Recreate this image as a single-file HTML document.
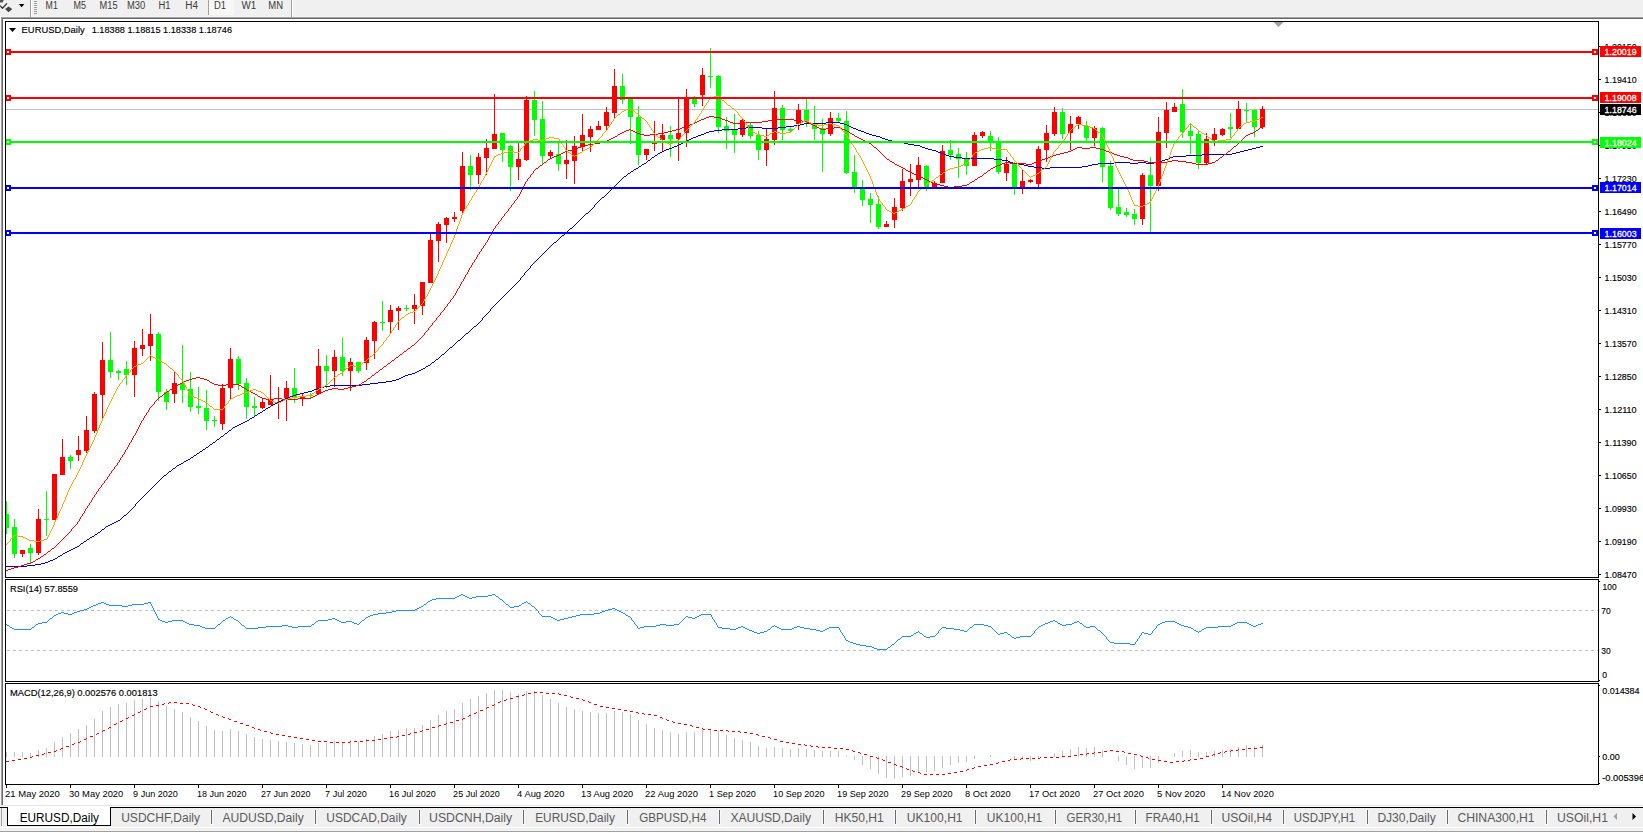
<!DOCTYPE html>
<html><head><meta charset="utf-8"><title>EURUSD,Daily</title>
<style>
html,body{margin:0;padding:0;width:1643px;height:833px;overflow:hidden;background:#f0f0f0;}
svg{display:block;}
text{font-family:"Liberation Sans",sans-serif;white-space:pre;}
</style></head>
<body>
<svg width="1643" height="833" viewBox="0 0 1643 833" shape-rendering="crispEdges">
<rect x="0" y="0" width="1643" height="833" fill="#f0f0f0"/>
<rect x="0" y="16" width="1643" height="1" fill="#f5f5f5"/>
<rect x="0" y="17" width="1643" height="1" fill="#a0a0a0"/>
<rect x="0" y="18" width="1643" height="1" fill="#696969"/>
<rect x="3" y="19" width="1640" height="786" fill="#ffffff"/>
<rect x="0" y="17" width="1" height="788" fill="#f8f8f8"/>
<rect x="1" y="17" width="1" height="788" fill="#a0a0a0"/>
<rect x="2" y="18" width="1" height="787" fill="#696969"/>
<rect x="30" y="0" width="1" height="17" fill="#a0a0a0"/>
<rect x="31" y="0" width="1" height="17" fill="#ffffff"/>
<rect x="291" y="0" width="1" height="17" fill="#a0a0a0"/>
<rect x="292" y="0" width="1" height="17" fill="#ffffff"/>
<rect x="34" y="1" width="3" height="1" fill="#a0a0a0"/>
<rect x="34" y="3" width="3" height="1" fill="#a0a0a0"/>
<rect x="34" y="5" width="3" height="1" fill="#a0a0a0"/>
<rect x="34" y="7" width="3" height="1" fill="#a0a0a0"/>
<rect x="34" y="9" width="3" height="1" fill="#a0a0a0"/>
<rect x="34" y="11" width="3" height="1" fill="#a0a0a0"/>
<rect x="34" y="13" width="3" height="1" fill="#a0a0a0"/>
<rect x="208" y="0" width="1" height="15" fill="#a0a0a0"/>
<rect x="209" y="0" width="25" height="15" fill="#f7f7f7"/>
<path d="M18.8 4 L24.4 4 L21.6 7.2 Z" fill="#000" shape-rendering="auto"/>
<path d="M0 0 L3.8 0 L2.5 2.6 L0 2.6 Z" fill="#505050" shape-rendering="auto"/>
<path d="M0 5.6 L2.5 8.3 L7 3.4" stroke="#303030" stroke-width="1.3" fill="none" shape-rendering="auto"/>
<path d="M5 9.1 L8.6 6.4 L12.2 8.9 L8.6 12.3 Z" fill="#454545" shape-rendering="auto"/>
<text x="45.6" y="9.1" font-size="10" fill="#3a3a3a" textLength="12.2" lengthAdjust="spacingAndGlyphs">M1</text>
<text x="73.6" y="9.1" font-size="10" fill="#3a3a3a" textLength="12.5" lengthAdjust="spacingAndGlyphs">M5</text>
<text x="99.6" y="9.1" font-size="10" fill="#3a3a3a" textLength="18" lengthAdjust="spacingAndGlyphs">M15</text>
<text x="127" y="9.1" font-size="10" fill="#3a3a3a" textLength="18.2" lengthAdjust="spacingAndGlyphs">M30</text>
<text x="158.4" y="9.1" font-size="10" fill="#3a3a3a" textLength="12" lengthAdjust="spacingAndGlyphs">H1</text>
<text x="185.2" y="9.1" font-size="10" fill="#3a3a3a" textLength="12.8" lengthAdjust="spacingAndGlyphs">H4</text>
<text x="214" y="9.1" font-size="10" fill="#3a3a3a" textLength="12.1" lengthAdjust="spacingAndGlyphs">D1</text>
<text x="241.5" y="9.1" font-size="10" fill="#3a3a3a" textLength="14.7" lengthAdjust="spacingAndGlyphs">W1</text>
<text x="268.3" y="9.1" font-size="10" fill="#3a3a3a" textLength="14.7" lengthAdjust="spacingAndGlyphs">MN</text>
<rect x="5" y="21" width="1594" height="1" fill="#000"/>
<rect x="5" y="577" width="1594" height="1" fill="#000"/>
<rect x="5" y="21" width="1" height="557" fill="#000"/>
<rect x="1598" y="21" width="1" height="557" fill="#000"/>
<rect x="5" y="579" width="1594" height="1" fill="#000"/>
<rect x="5" y="681" width="1594" height="1" fill="#000"/>
<rect x="5" y="579" width="1" height="103" fill="#000"/>
<rect x="1598" y="579" width="1" height="103" fill="#000"/>
<rect x="5" y="683" width="1594" height="1" fill="#000"/>
<rect x="5" y="784" width="1594" height="1" fill="#000"/>
<rect x="5" y="683" width="1" height="102" fill="#000"/>
<rect x="1598" y="683" width="1" height="102" fill="#000"/>
<defs>
<clipPath id="cm"><rect x="6" y="22" width="1592" height="555"/></clipPath>
<clipPath id="cr"><rect x="6" y="580" width="1592" height="101"/></clipPath>
<clipPath id="cd"><rect x="6" y="684" width="1592" height="100"/></clipPath>
</defs>
<g clip-path="url(#cm)">
<path d="M1273.5 22 L1283.5 22 L1278.5 27 Z" fill="#a0a0a0" shape-rendering="auto"/>
<rect x="6" y="109" width="1592" height="1" fill="#c0c0c0"/>
<rect x="6" y="501" width="1" height="33" fill="#00ff00"/>
<rect x="4" y="514" width="5" height="14" fill="#00ff00"/>
<rect x="14" y="519" width="1" height="39" fill="#00ff00"/>
<rect x="12" y="527" width="5" height="27" fill="#00ff00"/>
<rect x="22" y="550" width="1" height="7" fill="#ff0000"/>
<rect x="20" y="550" width="5" height="4" fill="#ff0000"/>
<rect x="30" y="544" width="1" height="19" fill="#00ff00"/>
<rect x="28" y="548" width="5" height="5" fill="#00ff00"/>
<rect x="38" y="509" width="1" height="46" fill="#ff0000"/>
<rect x="36" y="519" width="5" height="34" fill="#ff0000"/>
<rect x="46" y="491" width="1" height="45" fill="#00ff00"/>
<rect x="44" y="519" width="5" height="1" fill="#00ff00"/>
<rect x="54" y="474" width="1" height="46" fill="#ff0000"/>
<rect x="52" y="474" width="5" height="46" fill="#ff0000"/>
<rect x="62" y="439" width="1" height="36" fill="#ff0000"/>
<rect x="60" y="457" width="5" height="18" fill="#ff0000"/>
<rect x="70" y="455" width="1" height="14" fill="#00ff00"/>
<rect x="68" y="457" width="5" height="4" fill="#00ff00"/>
<rect x="78" y="436" width="1" height="25" fill="#ff0000"/>
<rect x="76" y="450" width="5" height="5" fill="#ff0000"/>
<rect x="86" y="416" width="1" height="37" fill="#ff0000"/>
<rect x="84" y="430" width="5" height="21" fill="#ff0000"/>
<rect x="94" y="392" width="1" height="41" fill="#ff0000"/>
<rect x="92" y="394" width="5" height="37" fill="#ff0000"/>
<rect x="102" y="342" width="1" height="76" fill="#ff0000"/>
<rect x="100" y="360" width="5" height="35" fill="#ff0000"/>
<rect x="110" y="332" width="1" height="46" fill="#00ff00"/>
<rect x="108" y="360" width="5" height="12" fill="#00ff00"/>
<rect x="118" y="370" width="1" height="10" fill="#00ff00"/>
<rect x="116" y="371" width="5" height="2" fill="#00ff00"/>
<rect x="126" y="361" width="1" height="24" fill="#00ff00"/>
<rect x="124" y="369" width="5" height="6" fill="#00ff00"/>
<rect x="134" y="341" width="1" height="56" fill="#ff0000"/>
<rect x="132" y="348" width="5" height="27" fill="#ff0000"/>
<rect x="142" y="329" width="1" height="27" fill="#ff0000"/>
<rect x="140" y="345" width="5" height="4" fill="#ff0000"/>
<rect x="150" y="314" width="1" height="47" fill="#ff0000"/>
<rect x="148" y="334" width="5" height="12" fill="#ff0000"/>
<rect x="158" y="332" width="1" height="69" fill="#00ff00"/>
<rect x="156" y="334" width="5" height="58" fill="#00ff00"/>
<rect x="166" y="389" width="1" height="21" fill="#00ff00"/>
<rect x="164" y="392" width="5" height="10" fill="#00ff00"/>
<rect x="174" y="372" width="1" height="31" fill="#ff0000"/>
<rect x="172" y="383" width="5" height="11" fill="#ff0000"/>
<rect x="182" y="345" width="1" height="58" fill="#00ff00"/>
<rect x="180" y="383" width="5" height="7" fill="#00ff00"/>
<rect x="190" y="372" width="1" height="40" fill="#00ff00"/>
<rect x="188" y="389" width="5" height="18" fill="#00ff00"/>
<rect x="198" y="387" width="1" height="27" fill="#00ff00"/>
<rect x="196" y="406" width="5" height="2" fill="#00ff00"/>
<rect x="206" y="390" width="1" height="40" fill="#00ff00"/>
<rect x="204" y="408" width="5" height="13" fill="#00ff00"/>
<rect x="214" y="416" width="1" height="11" fill="#00ff00"/>
<rect x="212" y="420" width="5" height="1" fill="#00ff00"/>
<rect x="222" y="384" width="1" height="46" fill="#ff0000"/>
<rect x="220" y="388" width="5" height="36" fill="#ff0000"/>
<rect x="230" y="348" width="1" height="52" fill="#ff0000"/>
<rect x="228" y="359" width="5" height="29" fill="#ff0000"/>
<rect x="238" y="356" width="1" height="34" fill="#00ff00"/>
<rect x="236" y="359" width="5" height="25" fill="#00ff00"/>
<rect x="246" y="378" width="1" height="41" fill="#00ff00"/>
<rect x="244" y="383" width="5" height="24" fill="#00ff00"/>
<rect x="254" y="397" width="1" height="20" fill="#00ff00"/>
<rect x="252" y="406" width="5" height="2" fill="#00ff00"/>
<rect x="262" y="398" width="1" height="11" fill="#ff0000"/>
<rect x="260" y="402" width="5" height="6" fill="#ff0000"/>
<rect x="270" y="375" width="1" height="30" fill="#ff0000"/>
<rect x="268" y="400" width="5" height="5" fill="#ff0000"/>
<rect x="278" y="387" width="1" height="32" fill="#ff0000"/>
<rect x="276" y="398" width="5" height="1" fill="#ff0000"/>
<rect x="286" y="381" width="1" height="40" fill="#ff0000"/>
<rect x="284" y="388" width="5" height="10" fill="#ff0000"/>
<rect x="294" y="368" width="1" height="35" fill="#00ff00"/>
<rect x="292" y="388" width="5" height="10" fill="#00ff00"/>
<rect x="302" y="393" width="1" height="13" fill="#ff0000"/>
<rect x="300" y="396" width="5" height="2" fill="#ff0000"/>
<rect x="310" y="393" width="1" height="5" fill="#00ff00"/>
<rect x="308" y="395" width="5" height="1" fill="#00ff00"/>
<rect x="318" y="349" width="1" height="45" fill="#ff0000"/>
<rect x="316" y="366" width="5" height="28" fill="#ff0000"/>
<rect x="326" y="355" width="1" height="33" fill="#00ff00"/>
<rect x="324" y="366" width="5" height="5" fill="#00ff00"/>
<rect x="334" y="350" width="1" height="37" fill="#ff0000"/>
<rect x="332" y="357" width="5" height="14" fill="#ff0000"/>
<rect x="342" y="338" width="1" height="38" fill="#00ff00"/>
<rect x="340" y="357" width="5" height="14" fill="#00ff00"/>
<rect x="350" y="358" width="1" height="33" fill="#ff0000"/>
<rect x="348" y="362" width="5" height="9" fill="#ff0000"/>
<rect x="358" y="362" width="1" height="11" fill="#00ff00"/>
<rect x="356" y="362" width="5" height="9" fill="#00ff00"/>
<rect x="366" y="337" width="1" height="33" fill="#ff0000"/>
<rect x="364" y="340" width="5" height="23" fill="#ff0000"/>
<rect x="374" y="321" width="1" height="38" fill="#ff0000"/>
<rect x="372" y="322" width="5" height="19" fill="#ff0000"/>
<rect x="382" y="301" width="1" height="30" fill="#00ff00"/>
<rect x="380" y="322" width="5" height="1" fill="#00ff00"/>
<rect x="390" y="305" width="1" height="29" fill="#ff0000"/>
<rect x="388" y="310" width="5" height="12" fill="#ff0000"/>
<rect x="398" y="306" width="1" height="24" fill="#ff0000"/>
<rect x="396" y="308" width="5" height="3" fill="#ff0000"/>
<rect x="406" y="305" width="1" height="6" fill="#00ff00"/>
<rect x="404" y="308" width="5" height="1" fill="#00ff00"/>
<rect x="414" y="294" width="1" height="30" fill="#ff0000"/>
<rect x="412" y="305" width="5" height="4" fill="#ff0000"/>
<rect x="422" y="282" width="1" height="33" fill="#ff0000"/>
<rect x="420" y="282" width="5" height="24" fill="#ff0000"/>
<rect x="430" y="234" width="1" height="49" fill="#ff0000"/>
<rect x="428" y="240" width="5" height="43" fill="#ff0000"/>
<rect x="438" y="222" width="1" height="40" fill="#ff0000"/>
<rect x="436" y="224" width="5" height="17" fill="#ff0000"/>
<rect x="446" y="217" width="1" height="26" fill="#ff0000"/>
<rect x="444" y="218" width="5" height="7" fill="#ff0000"/>
<rect x="454" y="212" width="1" height="10" fill="#ff0000"/>
<rect x="452" y="217" width="5" height="2" fill="#ff0000"/>
<rect x="462" y="152" width="1" height="62" fill="#ff0000"/>
<rect x="460" y="166" width="5" height="45" fill="#ff0000"/>
<rect x="470" y="155" width="1" height="35" fill="#00ff00"/>
<rect x="468" y="166" width="5" height="9" fill="#00ff00"/>
<rect x="478" y="153" width="1" height="31" fill="#ff0000"/>
<rect x="476" y="157" width="5" height="18" fill="#ff0000"/>
<rect x="486" y="139" width="1" height="36" fill="#ff0000"/>
<rect x="484" y="148" width="5" height="10" fill="#ff0000"/>
<rect x="494" y="94" width="1" height="55" fill="#ff0000"/>
<rect x="492" y="134" width="5" height="15" fill="#ff0000"/>
<rect x="502" y="133" width="1" height="29" fill="#00ff00"/>
<rect x="500" y="133" width="5" height="17" fill="#00ff00"/>
<rect x="510" y="145" width="1" height="46" fill="#00ff00"/>
<rect x="508" y="146" width="5" height="21" fill="#00ff00"/>
<rect x="518" y="143" width="1" height="37" fill="#ff0000"/>
<rect x="516" y="159" width="5" height="8" fill="#ff0000"/>
<rect x="526" y="96" width="1" height="65" fill="#ff0000"/>
<rect x="524" y="100" width="5" height="60" fill="#ff0000"/>
<rect x="534" y="91" width="1" height="45" fill="#00ff00"/>
<rect x="532" y="100" width="5" height="20" fill="#00ff00"/>
<rect x="542" y="101" width="1" height="63" fill="#00ff00"/>
<rect x="540" y="119" width="5" height="37" fill="#00ff00"/>
<rect x="550" y="150" width="1" height="9" fill="#ff0000"/>
<rect x="548" y="152" width="5" height="4" fill="#ff0000"/>
<rect x="558" y="143" width="1" height="28" fill="#00ff00"/>
<rect x="556" y="154" width="5" height="10" fill="#00ff00"/>
<rect x="566" y="140" width="1" height="39" fill="#ff0000"/>
<rect x="564" y="160" width="5" height="4" fill="#ff0000"/>
<rect x="574" y="136" width="1" height="48" fill="#ff0000"/>
<rect x="572" y="146" width="5" height="15" fill="#ff0000"/>
<rect x="582" y="114" width="1" height="37" fill="#ff0000"/>
<rect x="580" y="135" width="5" height="12" fill="#ff0000"/>
<rect x="590" y="126" width="1" height="26" fill="#ff0000"/>
<rect x="588" y="129" width="5" height="8" fill="#ff0000"/>
<rect x="598" y="121" width="1" height="9" fill="#ff0000"/>
<rect x="596" y="126" width="5" height="4" fill="#ff0000"/>
<rect x="606" y="107" width="1" height="23" fill="#ff0000"/>
<rect x="604" y="112" width="5" height="14" fill="#ff0000"/>
<rect x="614" y="69" width="1" height="49" fill="#ff0000"/>
<rect x="612" y="86" width="5" height="27" fill="#ff0000"/>
<rect x="622" y="74" width="1" height="30" fill="#00ff00"/>
<rect x="620" y="86" width="5" height="14" fill="#00ff00"/>
<rect x="630" y="99" width="1" height="45" fill="#00ff00"/>
<rect x="628" y="99" width="5" height="18" fill="#00ff00"/>
<rect x="638" y="106" width="1" height="59" fill="#00ff00"/>
<rect x="636" y="117" width="5" height="38" fill="#00ff00"/>
<rect x="646" y="149" width="1" height="11" fill="#ff0000"/>
<rect x="644" y="149" width="5" height="6" fill="#ff0000"/>
<rect x="654" y="121" width="1" height="30" fill="#ff0000"/>
<rect x="652" y="143" width="5" height="1" fill="#ff0000"/>
<rect x="662" y="124" width="1" height="27" fill="#ff0000"/>
<rect x="660" y="135" width="5" height="5" fill="#ff0000"/>
<rect x="670" y="126" width="1" height="31" fill="#00ff00"/>
<rect x="668" y="135" width="5" height="4" fill="#00ff00"/>
<rect x="678" y="99" width="1" height="62" fill="#ff0000"/>
<rect x="676" y="133" width="5" height="6" fill="#ff0000"/>
<rect x="686" y="89" width="1" height="58" fill="#ff0000"/>
<rect x="684" y="98" width="5" height="35" fill="#ff0000"/>
<rect x="694" y="96" width="1" height="11" fill="#00ff00"/>
<rect x="692" y="99" width="5" height="5" fill="#00ff00"/>
<rect x="702" y="68" width="1" height="38" fill="#ff0000"/>
<rect x="700" y="75" width="5" height="20" fill="#ff0000"/>
<rect x="710" y="48" width="1" height="40" fill="#00ff00"/>
<rect x="708" y="76" width="5" height="1" fill="#00ff00"/>
<rect x="718" y="75" width="1" height="58" fill="#00ff00"/>
<rect x="716" y="76" width="5" height="51" fill="#00ff00"/>
<rect x="726" y="117" width="1" height="32" fill="#00ff00"/>
<rect x="724" y="126" width="5" height="5" fill="#00ff00"/>
<rect x="734" y="114" width="1" height="39" fill="#00ff00"/>
<rect x="732" y="130" width="5" height="5" fill="#00ff00"/>
<rect x="742" y="119" width="1" height="18" fill="#ff0000"/>
<rect x="740" y="120" width="5" height="15" fill="#ff0000"/>
<rect x="750" y="122" width="1" height="17" fill="#00ff00"/>
<rect x="748" y="125" width="5" height="11" fill="#00ff00"/>
<rect x="758" y="131" width="1" height="29" fill="#00ff00"/>
<rect x="756" y="135" width="5" height="15" fill="#00ff00"/>
<rect x="766" y="129" width="1" height="37" fill="#ff0000"/>
<rect x="764" y="139" width="5" height="11" fill="#ff0000"/>
<rect x="774" y="91" width="1" height="54" fill="#ff0000"/>
<rect x="772" y="108" width="5" height="32" fill="#ff0000"/>
<rect x="782" y="105" width="1" height="35" fill="#00ff00"/>
<rect x="780" y="108" width="5" height="22" fill="#00ff00"/>
<rect x="790" y="126" width="1" height="7" fill="#00ff00"/>
<rect x="788" y="129" width="5" height="2" fill="#00ff00"/>
<rect x="798" y="104" width="1" height="26" fill="#ff0000"/>
<rect x="796" y="110" width="5" height="14" fill="#ff0000"/>
<rect x="806" y="99" width="1" height="28" fill="#00ff00"/>
<rect x="804" y="110" width="5" height="12" fill="#00ff00"/>
<rect x="814" y="106" width="1" height="34" fill="#00ff00"/>
<rect x="812" y="124" width="5" height="5" fill="#00ff00"/>
<rect x="822" y="119" width="1" height="53" fill="#00ff00"/>
<rect x="820" y="128" width="5" height="6" fill="#00ff00"/>
<rect x="830" y="112" width="1" height="24" fill="#ff0000"/>
<rect x="828" y="118" width="5" height="16" fill="#ff0000"/>
<rect x="838" y="113" width="1" height="9" fill="#00ff00"/>
<rect x="836" y="118" width="5" height="3" fill="#00ff00"/>
<rect x="846" y="111" width="1" height="63" fill="#00ff00"/>
<rect x="844" y="121" width="5" height="52" fill="#00ff00"/>
<rect x="854" y="155" width="1" height="38" fill="#00ff00"/>
<rect x="852" y="172" width="5" height="15" fill="#00ff00"/>
<rect x="862" y="180" width="1" height="26" fill="#00ff00"/>
<rect x="860" y="189" width="5" height="11" fill="#00ff00"/>
<rect x="870" y="193" width="1" height="30" fill="#00ff00"/>
<rect x="868" y="199" width="5" height="6" fill="#00ff00"/>
<rect x="878" y="196" width="1" height="33" fill="#00ff00"/>
<rect x="876" y="204" width="5" height="23" fill="#00ff00"/>
<rect x="886" y="221" width="1" height="6" fill="#ff0000"/>
<rect x="884" y="224" width="5" height="3" fill="#ff0000"/>
<rect x="894" y="198" width="1" height="30" fill="#ff0000"/>
<rect x="892" y="207" width="5" height="13" fill="#ff0000"/>
<rect x="902" y="169" width="1" height="42" fill="#ff0000"/>
<rect x="900" y="181" width="5" height="27" fill="#ff0000"/>
<rect x="910" y="164" width="1" height="32" fill="#ff0000"/>
<rect x="908" y="179" width="5" height="3" fill="#ff0000"/>
<rect x="918" y="157" width="1" height="30" fill="#ff0000"/>
<rect x="916" y="165" width="5" height="15" fill="#ff0000"/>
<rect x="926" y="165" width="1" height="26" fill="#00ff00"/>
<rect x="924" y="166" width="5" height="21" fill="#00ff00"/>
<rect x="934" y="181" width="1" height="6" fill="#ff0000"/>
<rect x="932" y="183" width="5" height="4" fill="#ff0000"/>
<rect x="942" y="145" width="1" height="38" fill="#ff0000"/>
<rect x="940" y="151" width="5" height="32" fill="#ff0000"/>
<rect x="950" y="140" width="1" height="20" fill="#00ff00"/>
<rect x="948" y="150" width="5" height="5" fill="#00ff00"/>
<rect x="958" y="148" width="1" height="30" fill="#00ff00"/>
<rect x="956" y="154" width="5" height="5" fill="#00ff00"/>
<rect x="966" y="152" width="1" height="23" fill="#00ff00"/>
<rect x="964" y="159" width="5" height="7" fill="#00ff00"/>
<rect x="974" y="132" width="1" height="34" fill="#ff0000"/>
<rect x="972" y="135" width="5" height="31" fill="#ff0000"/>
<rect x="982" y="131" width="1" height="7" fill="#ff0000"/>
<rect x="980" y="132" width="5" height="4" fill="#ff0000"/>
<rect x="990" y="131" width="1" height="20" fill="#00ff00"/>
<rect x="988" y="136" width="5" height="5" fill="#00ff00"/>
<rect x="998" y="137" width="1" height="37" fill="#00ff00"/>
<rect x="996" y="141" width="5" height="31" fill="#00ff00"/>
<rect x="1006" y="157" width="1" height="24" fill="#ff0000"/>
<rect x="1004" y="164" width="5" height="9" fill="#ff0000"/>
<rect x="1014" y="162" width="1" height="33" fill="#00ff00"/>
<rect x="1012" y="164" width="5" height="25" fill="#00ff00"/>
<rect x="1022" y="169" width="1" height="25" fill="#ff0000"/>
<rect x="1020" y="181" width="5" height="8" fill="#ff0000"/>
<rect x="1030" y="179" width="1" height="4" fill="#ff0000"/>
<rect x="1028" y="180" width="5" height="2" fill="#ff0000"/>
<rect x="1038" y="146" width="1" height="41" fill="#ff0000"/>
<rect x="1036" y="149" width="5" height="35" fill="#ff0000"/>
<rect x="1046" y="125" width="1" height="37" fill="#ff0000"/>
<rect x="1044" y="133" width="5" height="17" fill="#ff0000"/>
<rect x="1054" y="107" width="1" height="29" fill="#ff0000"/>
<rect x="1052" y="112" width="5" height="22" fill="#ff0000"/>
<rect x="1062" y="108" width="1" height="31" fill="#00ff00"/>
<rect x="1060" y="112" width="5" height="22" fill="#00ff00"/>
<rect x="1070" y="116" width="1" height="34" fill="#ff0000"/>
<rect x="1068" y="124" width="5" height="9" fill="#ff0000"/>
<rect x="1078" y="116" width="1" height="13" fill="#ff0000"/>
<rect x="1076" y="117" width="5" height="7" fill="#ff0000"/>
<rect x="1086" y="121" width="1" height="20" fill="#00ff00"/>
<rect x="1084" y="126" width="5" height="12" fill="#00ff00"/>
<rect x="1094" y="126" width="1" height="20" fill="#ff0000"/>
<rect x="1092" y="128" width="5" height="10" fill="#ff0000"/>
<rect x="1102" y="127" width="1" height="55" fill="#00ff00"/>
<rect x="1100" y="128" width="5" height="39" fill="#00ff00"/>
<rect x="1110" y="161" width="1" height="49" fill="#00ff00"/>
<rect x="1108" y="166" width="5" height="42" fill="#00ff00"/>
<rect x="1118" y="189" width="1" height="27" fill="#00ff00"/>
<rect x="1116" y="207" width="5" height="7" fill="#00ff00"/>
<rect x="1126" y="208" width="1" height="9" fill="#00ff00"/>
<rect x="1124" y="212" width="5" height="3" fill="#00ff00"/>
<rect x="1134" y="209" width="1" height="16" fill="#00ff00"/>
<rect x="1132" y="214" width="5" height="5" fill="#00ff00"/>
<rect x="1142" y="173" width="1" height="52" fill="#ff0000"/>
<rect x="1140" y="175" width="5" height="44" fill="#ff0000"/>
<rect x="1150" y="157" width="1" height="75" fill="#00ff00"/>
<rect x="1148" y="175" width="5" height="11" fill="#00ff00"/>
<rect x="1158" y="117" width="1" height="74" fill="#ff0000"/>
<rect x="1156" y="132" width="5" height="54" fill="#ff0000"/>
<rect x="1166" y="102" width="1" height="46" fill="#ff0000"/>
<rect x="1164" y="110" width="5" height="23" fill="#ff0000"/>
<rect x="1174" y="103" width="1" height="9" fill="#ff0000"/>
<rect x="1172" y="107" width="5" height="5" fill="#ff0000"/>
<rect x="1182" y="89" width="1" height="49" fill="#00ff00"/>
<rect x="1180" y="104" width="5" height="28" fill="#00ff00"/>
<rect x="1190" y="123" width="1" height="31" fill="#00ff00"/>
<rect x="1188" y="131" width="5" height="5" fill="#00ff00"/>
<rect x="1198" y="130" width="1" height="39" fill="#00ff00"/>
<rect x="1196" y="134" width="5" height="29" fill="#00ff00"/>
<rect x="1206" y="133" width="1" height="31" fill="#ff0000"/>
<rect x="1204" y="139" width="5" height="24" fill="#ff0000"/>
<rect x="1214" y="128" width="1" height="18" fill="#ff0000"/>
<rect x="1212" y="134" width="5" height="6" fill="#ff0000"/>
<rect x="1222" y="128" width="1" height="8" fill="#ff0000"/>
<rect x="1220" y="129" width="5" height="6" fill="#ff0000"/>
<rect x="1230" y="113" width="1" height="25" fill="#00ff00"/>
<rect x="1228" y="127" width="5" height="2" fill="#00ff00"/>
<rect x="1238" y="101" width="1" height="28" fill="#ff0000"/>
<rect x="1236" y="109" width="5" height="20" fill="#ff0000"/>
<rect x="1246" y="103" width="1" height="19" fill="#00ff00"/>
<rect x="1244" y="110" width="5" height="1" fill="#00ff00"/>
<rect x="1254" y="109" width="1" height="28" fill="#00ff00"/>
<rect x="1252" y="110" width="5" height="17" fill="#00ff00"/>
<rect x="1262" y="106" width="1" height="23" fill="#ff0000"/>
<rect x="1260" y="109" width="5" height="18" fill="#ff0000"/>
<path d="M652 157h2v1h-2zM954 157h8v1h-8zM1170 157h3v1h-3zM314 389h3v1h-3zM206 447h2v1h-2zM90 537h2v1h-2zM203 449h2v1h-2zM804 123h22v1h-22zM840 123h4v1h-4zM87 539h2v1h-2zM639 166h2v1h-2zM1028 166h6v1h-6zM1082 166h6v1h-6zM408 374h4v1h-4zM669 148h3v1h-3zM925 148h3v1h-3zM1252 148h4v1h-4zM962 158h32v1h-32zM1168 158h2v1h-2zM268 407h2v1h-2zM290 396h3v1h-3zM237 425h2v1h-2zM1024 165h4v1h-4zM1088 165h4v1h-4zM714 130h8v1h-8zM858 130h3v1h-3zM164 475h2v1h-2zM399 378h2v1h-2zM631 171h2v1h-2zM233 427h2v1h-2zM71 549h2v1h-2zM644 163h2v1h-2zM1013 163h5v1h-5zM1098 163h16v1h-16zM1130 163h8v1h-8zM1146 163h8v1h-8zM392 380h4v1h-4zM683 142h2v1h-2zM898 142h6v1h-6zM944 154h2v1h-2zM1202 154h30v1h-30zM116 521h2v1h-2zM704 133h2v1h-2zM866 133h3v1h-3zM386 381h6v1h-6zM112 523h2v1h-2zM252 417h2v1h-2zM674 146h3v1h-3zM920 146h2v1h-2zM1260 146h3v1h-3zM696 136h2v1h-2zM876 136h4v1h-4zM636 168h2v1h-2zM1042 168h8v1h-8zM27 565h8v1h-8zM436 359h2v1h-2zM1008 161h2v1h-2zM1160 161h2v1h-2zM554 242h2v1h-2zM55 558h2v1h-2zM664 150h2v1h-2zM932 150h4v1h-4zM1244 150h4v1h-4zM826 122h14v1h-14zM738 128h8v1h-8zM762 128h16v1h-16zM853 128h3v1h-3zM794 125h6v1h-6zM847 125h2v1h-2zM283 399h2v1h-2zM279 401h2v1h-2zM330 385h32v1h-32zM417 371h2v1h-2zM1010 162h3v1h-3zM1114 162h16v1h-16zM1138 162h8v1h-8zM1154 162h6v1h-6zM693 137h3v1h-3zM880 137h2v1h-2zM169 471h2v1h-2zM666 149h3v1h-3zM928 149h4v1h-4zM1248 149h4v1h-4zM1034 167h8v1h-8zM1050 167h32v1h-32zM217 439h2v1h-2zM245 421h2v1h-2zM194 455h2v1h-2zM324 386h6v1h-6zM786 126h8v1h-8zM849 126h2v1h-2zM45 562h3v1h-3zM681 143h2v1h-2zM904 143h4v1h-4zM746 127h16v1h-16zM778 127h8v1h-8zM851 127h2v1h-2zM65 552h2v1h-2zM994 159h8v1h-8zM1165 159h3v1h-3zM177 465h2v1h-2zM662 151h2v1h-2zM936 151h2v1h-2zM1240 151h4v1h-4zM106 526h2v1h-2zM271 405h2v1h-2zM706 132h3v1h-3zM864 132h2v1h-2zM243 422h2v1h-2zM403 376h2v1h-2zM370 383h8v1h-8zM687 140h2v1h-2zM888 140h4v1h-4zM6 566h21v1h-21zM698 135h3v1h-3zM872 135h4v1h-4zM378 382h8v1h-8zM800 124h4v1h-4zM844 124h3v1h-3zM288 397h2v1h-2zM188 459h2v1h-2zM949 156h5v1h-5zM1173 156h13v1h-13zM184 461h2v1h-2zM235 426h2v1h-2zM648 160h2v1h-2zM1002 160h6v1h-6zM1162 160h3v1h-3zM628 173h2v1h-2zM602 197h2v1h-2zM114 522h2v1h-2zM677 145h2v1h-2zM914 145h6v1h-6zM722 129h16v1h-16zM856 129h2v1h-2zM50 560h3v1h-3zM691 138h2v1h-2zM882 138h3v1h-3zM213 442h2v1h-2zM396 379h3v1h-3zM69 550h2v1h-2zM98 532h2v1h-2zM210 444h2v1h-2zM642 164h2v1h-2zM1018 164h6v1h-6zM1092 164h6v1h-6zM562 235h2v1h-2zM412 373h3v1h-3zM263 410h2v1h-2zM260 412h2v1h-2zM41 563h4v1h-4zM685 141h2v1h-2zM892 141h6v1h-6zM415 372h2v1h-2zM701 134h3v1h-3zM869 134h3v1h-3zM672 147h2v1h-2zM922 147h3v1h-3zM1256 147h4v1h-4zM655 155h2v1h-2zM946 155h3v1h-3zM1186 155h16v1h-16zM709 131h5v1h-5zM861 131h3v1h-3zM200 451h2v1h-2zM362 384h8v1h-8zM426 366h2v1h-2zM423 368h2v1h-2zM250 418h2v1h-2zM95 534h2v1h-2zM277 402h2v1h-2zM432 362h2v1h-2zM320 387h4v1h-4zM679 144h2v1h-2zM908 144h6v1h-6zM58 556h2v1h-2zM474 326h2v1h-2zM405 375h3v1h-3zM293 395h3v1h-3zM77 546h2v1h-2zM60 555h2v1h-2zM300 393h4v1h-4zM266 408h2v1h-2zM285 398h3v1h-3zM186 460h2v1h-2zM53 559h2v1h-2zM48 561h2v1h-2zM35 564h6v1h-6zM67 551h2v1h-2zM586 213h2v1h-2zM658 153h2v1h-2zM941 153h3v1h-3zM1232 153h4v1h-4zM660 152h2v1h-2zM938 152h3v1h-3zM1236 152h4v1h-4zM317 388h3v1h-3zM689 139h2v1h-2zM885 139h3v1h-3zM241 423h2v1h-2zM102 529h2v1h-2zM225 433h2v1h-2zM308 391h4v1h-4zM296 394h4v1h-4zM108 525h2v1h-2zM84 541h2v1h-2zM258 413h2v1h-2zM191 457h2v1h-2zM75 547h2v1h-2zM124 515h2v1h-2zM421 369h2v1h-2zM197 453h2v1h-2zM181 463h2v1h-2zM110 524h2v1h-2zM275 403h2v1h-2zM458 340h2v1h-2zM634 169h2v1h-2zM466 333h2v1h-2zM255 415h2v1h-2zM239 424h2v1h-2zM118 520h2v1h-2zM304 392h4v1h-4zM401 377h2v1h-2zM221 436h2v1h-2zM229 430h2v1h-2zM247 420h2v1h-2zM428 365h2v1h-2zM92 536h2v1h-2zM273 404h2v1h-2zM73 548h2v1h-2zM173 468h2v1h-2zM281 400h2v1h-2zM442 354h2v1h-2zM419 370h2v1h-2zM570 228h2v1h-2zM179 464h2v1h-2zM450 347h2v1h-2zM63 553h2v1h-2zM624 176h2v1h-2zM312 390h2v1h-2zM81 543h2v1h-2zM57 557h1v1h-1zM62 554h1v1h-1zM79 545h1v1h-1zM80 544h1v1h-1zM83 542h1v1h-1zM86 540h1v1h-1zM89 538h1v1h-1zM94 535h1v1h-1zM97 533h1v1h-1zM100 531h1v1h-1zM101 530h1v1h-1zM104 528h1v1h-1zM105 527h1v1h-1zM120 519h1v1h-1zM121 518h1v1h-1zM122 517h1v1h-1zM123 516h1v1h-1zM126 514h1v1h-1zM127 513h1v1h-1zM128 512h1v1h-1zM129 511h1v1h-1zM130 510h1v1h-1zM131 509h1v1h-1zM132 508h1v1h-1zM133 507h1v1h-1zM134 506h1v1h-1zM135 504h1v2h-1zM136 503h1v1h-1zM137 502h1v1h-1zM138 501h1v1h-1zM139 500h1v1h-1zM140 499h1v1h-1zM141 498h1v1h-1zM142 497h1v1h-1zM143 496h1v1h-1zM144 495h1v1h-1zM145 494h1v1h-1zM146 493h1v1h-1zM147 492h1v1h-1zM148 491h1v1h-1zM149 490h1v1h-1zM150 489h1v1h-1zM151 488h1v1h-1zM152 487h1v1h-1zM153 486h1v1h-1zM154 485h1v1h-1zM155 484h1v1h-1zM156 483h1v1h-1zM157 482h1v1h-1zM158 481h1v1h-1zM159 480h1v1h-1zM160 479h1v1h-1zM161 478h1v1h-1zM162 477h1v1h-1zM163 476h1v1h-1zM166 474h1v1h-1zM167 473h1v1h-1zM168 472h1v1h-1zM171 470h1v1h-1zM172 469h1v1h-1zM175 467h1v1h-1zM176 466h1v1h-1zM183 462h1v1h-1zM190 458h1v1h-1zM193 456h1v1h-1zM196 454h1v1h-1zM199 452h1v1h-1zM202 450h1v1h-1zM205 448h1v1h-1zM208 446h1v1h-1zM209 445h1v1h-1zM212 443h1v1h-1zM215 441h1v1h-1zM216 440h1v1h-1zM219 438h1v1h-1zM220 437h1v1h-1zM223 435h1v1h-1zM224 434h1v1h-1zM227 432h1v1h-1zM228 431h1v1h-1zM231 429h1v1h-1zM232 428h1v1h-1zM249 419h1v1h-1zM254 416h1v1h-1zM257 414h1v1h-1zM262 411h1v1h-1zM265 409h1v1h-1zM270 406h1v1h-1zM425 367h1v1h-1zM430 364h1v1h-1zM431 363h1v1h-1zM434 361h1v1h-1zM435 360h1v1h-1zM438 358h1v1h-1zM439 357h1v1h-1zM440 356h1v1h-1zM441 355h1v1h-1zM444 353h1v1h-1zM445 352h1v1h-1zM446 351h1v1h-1zM447 350h1v1h-1zM448 349h1v1h-1zM449 348h1v1h-1zM452 346h1v1h-1zM453 345h1v1h-1zM454 344h1v1h-1zM455 343h1v1h-1zM456 342h1v1h-1zM457 341h1v1h-1zM460 339h1v1h-1zM461 338h1v1h-1zM462 337h1v1h-1zM463 336h1v1h-1zM464 335h1v1h-1zM465 334h1v1h-1zM468 332h1v1h-1zM469 331h1v1h-1zM470 330h1v1h-1zM471 329h1v1h-1zM472 328h1v1h-1zM473 327h1v1h-1zM476 325h1v1h-1zM477 324h1v1h-1zM478 323h1v1h-1zM479 322h1v1h-1zM480 321h1v1h-1zM481 320h1v1h-1zM482 318h1v2h-1zM483 317h1v1h-1zM484 316h1v1h-1zM485 315h1v1h-1zM486 314h1v1h-1zM487 313h1v1h-1zM488 312h1v1h-1zM489 311h1v1h-1zM490 309h1v2h-1zM491 308h1v1h-1zM492 307h1v1h-1zM493 306h1v1h-1zM494 305h1v1h-1zM495 304h1v1h-1zM496 303h1v1h-1zM497 302h1v1h-1zM498 301h1v1h-1zM499 300h1v1h-1zM500 299h1v1h-1zM501 298h1v1h-1zM502 297h1v1h-1zM503 296h1v1h-1zM504 295h1v1h-1zM505 294h1v1h-1zM506 293h1v1h-1zM507 292h1v1h-1zM508 291h1v1h-1zM509 290h1v1h-1zM510 289h1v1h-1zM511 288h1v1h-1zM512 287h1v1h-1zM513 286h1v1h-1zM514 285h1v1h-1zM515 284h1v1h-1zM516 283h1v1h-1zM517 282h1v1h-1zM518 281h1v1h-1zM519 280h1v1h-1zM520 278h1v2h-1zM521 277h1v1h-1zM522 276h1v1h-1zM523 275h1v1h-1zM524 273h1v2h-1zM525 272h1v1h-1zM526 271h1v1h-1zM527 270h1v1h-1zM528 269h1v1h-1zM529 268h1v1h-1zM530 266h1v2h-1zM531 265h1v1h-1zM532 264h1v1h-1zM533 263h1v1h-1zM534 262h1v1h-1zM535 261h1v1h-1zM536 260h1v1h-1zM537 259h1v1h-1zM538 258h1v1h-1zM539 257h1v1h-1zM540 256h1v1h-1zM541 255h1v1h-1zM542 254h1v1h-1zM543 253h1v1h-1zM544 252h1v1h-1zM545 251h1v1h-1zM546 250h1v1h-1zM547 249h1v1h-1zM548 248h1v1h-1zM549 247h1v1h-1zM550 246h1v1h-1zM551 245h1v1h-1zM552 244h1v1h-1zM553 243h1v1h-1zM556 241h1v1h-1zM557 240h1v1h-1zM558 239h1v1h-1zM559 238h1v1h-1zM560 237h1v1h-1zM561 236h1v1h-1zM564 234h1v1h-1zM565 233h1v1h-1zM566 232h1v1h-1zM567 231h1v1h-1zM568 230h1v1h-1zM569 229h1v1h-1zM572 227h1v1h-1zM573 226h1v1h-1zM574 225h1v1h-1zM575 224h1v1h-1zM576 223h1v1h-1zM577 222h1v1h-1zM578 221h1v1h-1zM579 220h1v1h-1zM580 219h1v1h-1zM581 218h1v1h-1zM582 217h1v1h-1zM583 216h1v1h-1zM584 215h1v1h-1zM585 214h1v1h-1zM588 212h1v1h-1zM589 211h1v1h-1zM590 210h1v1h-1zM591 209h1v1h-1zM592 208h1v1h-1zM593 207h1v1h-1zM594 205h1v2h-1zM595 204h1v1h-1zM596 203h1v1h-1zM597 202h1v1h-1zM598 201h1v1h-1zM599 200h1v1h-1zM600 199h1v1h-1zM601 198h1v1h-1zM604 196h1v1h-1zM605 195h1v1h-1zM606 194h1v1h-1zM607 193h1v1h-1zM608 192h1v1h-1zM609 191h1v1h-1zM610 190h1v1h-1zM611 189h1v1h-1zM612 188h1v1h-1zM613 187h1v1h-1zM614 186h1v1h-1zM615 185h1v1h-1zM616 184h1v1h-1zM617 183h1v1h-1zM618 182h1v1h-1zM619 181h1v1h-1zM620 180h1v1h-1zM621 179h1v1h-1zM622 178h1v1h-1zM623 177h1v1h-1zM626 175h1v1h-1zM627 174h1v1h-1zM630 172h1v1h-1zM633 170h1v1h-1zM638 167h1v1h-1zM641 165h1v1h-1zM646 162h1v1h-1zM647 161h1v1h-1zM650 159h1v1h-1zM651 158h1v1h-1zM654 156h1v1h-1zM657 154h1v1h-1z" fill="#0000c8"/>
<path d="M914 174h3v1h-3zM565 151h3v1h-3zM1068 151h3v1h-3zM1106 151h3v1h-3zM1228 151h2v1h-2zM701 119h3v1h-3zM722 119h3v1h-3zM772 119h22v1h-22zM550 158h2v1h-2zM1045 158h3v1h-3zM1128 158h2v1h-2zM622 132h2v1h-2zM635 132h2v1h-2zM664 132h4v1h-4zM1253 132h2v1h-2zM178 384h2v1h-2zM214 384h4v1h-4zM226 384h13v1h-13zM359 384h2v1h-2zM262 398h4v1h-4zM274 398h8v1h-8zM298 398h13v1h-13zM680 128h2v1h-2zM819 128h2v1h-2zM826 128h8v1h-8zM840 128h2v1h-2zM24 564h3v1h-3zM690 124h3v1h-3zM811 124h2v1h-2zM554 156h3v1h-3zM1050 156h3v1h-3zM1120 156h4v1h-4zM921 177h2v1h-2zM978 177h2v1h-2zM936 184h4v1h-4zM967 184h2v1h-2zM594 143h6v1h-6zM869 143h2v1h-2zM44 554h2v1h-2zM695 122h2v1h-2zM730 122h3v1h-3zM746 122h16v1h-16zM807 122h2v1h-2zM578 147h3v1h-3zM874 147h2v1h-2zM1077 147h5v1h-5zM1090 147h6v1h-6zM260 397h2v1h-2zM311 397h2v1h-2zM609 139h2v1h-2zM861 139h2v1h-2zM644 135h6v1h-6zM1246 135h2v1h-2zM682 127h3v1h-3zM817 127h2v1h-2zM834 127h6v1h-6zM1260 127h2v1h-2zM890 161h2v1h-2zM1037 161h3v1h-3zM1144 161h4v1h-4zM1168 161h4v1h-4zM1178 161h8v1h-8zM31 562h2v1h-2zM944 186h4v1h-4zM954 186h8v1h-8zM693 123h2v1h-2zM733 123h13v1h-13zM809 123h2v1h-2zM704 118h2v1h-2zM720 118h2v1h-2zM563 152h2v1h-2zM1064 152h4v1h-4zM1109 152h3v1h-3zM196 377h4v1h-4zM685 126h3v1h-3zM815 126h2v1h-2zM697 121h2v1h-2zM728 121h2v1h-2zM762 121h6v1h-6zM802 121h5v1h-5zM167 391h2v1h-2zM249 391h2v1h-2zM323 391h2v1h-2zM14 567h4v1h-4zM895 164h2v1h-2zM1000 164h2v1h-2zM1026 164h6v1h-6zM1196 164h12v1h-12zM906 170h2v1h-2zM988 170h2v1h-2zM170 389h2v1h-2zM328 389h4v1h-4zM338 389h6v1h-6zM629 129h2v1h-2zM676 129h4v1h-4zM821 129h5v1h-5zM842 129h3v1h-3zM557 155h2v1h-2zM1053 155h3v1h-3zM1117 155h3v1h-3zM266 399h8v1h-8zM282 399h16v1h-16zM1040 160h2v1h-2zM1133 160h11v1h-11zM1172 160h6v1h-6zM1216 160h2v1h-2zM552 157h2v1h-2zM1048 157h2v1h-2zM1124 157h4v1h-4zM1220 157h2v1h-2zM548 159h2v1h-2zM887 159h2v1h-2zM1042 159h3v1h-3zM1130 159h3v1h-3zM584 145h4v1h-4zM620 133h2v1h-2zM637 133h3v1h-3zM658 133h6v1h-6zM850 133h2v1h-2zM1250 133h3v1h-3zM192 378h4v1h-4zM200 378h4v1h-4zM368 378h2v1h-2zM247 390h2v1h-2zM325 390h3v1h-3zM255 394h2v1h-2zM317 394h2v1h-2zM709 116h5v1h-5zM315 395h2v1h-2zM600 142h4v1h-4zM867 142h2v1h-2zM404 351h2v1h-2zM611 138h2v1h-2zM859 138h2v1h-2zM38 558h2v1h-2zM175 386h2v1h-2zM352 386h4v1h-4zM588 144h6v1h-6zM927 180h2v1h-2zM919 176h2v1h-2zM980 176h2v1h-2zM910 172h2v1h-2zM544 162h2v1h-2zM892 162h2v1h-2zM1005 162h5v1h-5zM1034 162h3v1h-3zM1148 162h20v1h-20zM1186 162h6v1h-6zM1212 162h3v1h-3zM536 168h2v1h-2zM903 168h2v1h-2zM991 168h2v1h-2zM412 345h2v1h-2zM706 117h3v1h-3zM714 117h6v1h-6zM604 141h3v1h-3zM865 141h2v1h-2zM540 165h2v1h-2zM897 165h2v1h-2zM997 165h3v1h-3zM172 388h2v1h-2zM244 388h2v1h-2zM332 388h6v1h-6zM344 388h4v1h-4zM1002 163h3v1h-3zM1010 163h16v1h-16zM1032 163h2v1h-2zM1192 163h4v1h-4zM1208 163h4v1h-4zM380 369h2v1h-2zM576 148h2v1h-2zM1075 148h2v1h-2zM1082 148h8v1h-8zM1096 148h4v1h-4zM388 363h2v1h-2zM940 185h4v1h-4zM962 185h5v1h-5zM186 380h3v1h-3zM207 380h2v1h-2zM624 131h2v1h-2zM633 131h2v1h-2zM668 131h4v1h-4zM847 131h2v1h-2zM568 150h4v1h-4zM1071 150h2v1h-2zM1104 150h2v1h-2zM396 357h2v1h-2zM52 548h2v1h-2zM618 134h2v1h-2zM640 134h4v1h-4zM650 134h8v1h-8zM852 134h2v1h-2zM1248 134h2v1h-2zM572 149h4v1h-4zM1073 149h2v1h-2zM1100 149h4v1h-4zM184 381h2v1h-2zM364 381h2v1h-2zM925 179h2v1h-2zM975 179h2v1h-2zM561 153h2v1h-2zM1060 153h4v1h-4zM1112 153h2v1h-2zM182 382h2v1h-2zM210 382h2v1h-2zM362 382h2v1h-2zM6 570h2v1h-2zM931 182h2v1h-2zM970 182h2v1h-2zM699 120h2v1h-2zM725 120h3v1h-3zM768 120h4v1h-4zM794 120h8v1h-8zM923 178h2v1h-2zM917 175h2v1h-2zM908 171h2v1h-2zM251 392h2v1h-2zM321 392h2v1h-2zM242 387h2v1h-2zM348 387h4v1h-4zM613 137h2v1h-2zM857 137h2v1h-2zM218 385h8v1h-8zM239 385h2v1h-2zM356 385h3v1h-3zM912 173h2v1h-2zM984 173h2v1h-2zM626 130h3v1h-3zM631 130h2v1h-2zM672 130h4v1h-4zM845 130h2v1h-2zM1256 130h2v1h-2zM948 187h6v1h-6zM688 125h2v1h-2zM813 125h2v1h-2zM27 563h4v1h-4zM41 556h2v1h-2zM11 568h3v1h-3zM899 166h2v1h-2zM995 166h2v1h-2zM372 375h2v1h-2zM559 154h2v1h-2zM1056 154h4v1h-4zM1114 154h3v1h-3zM1224 154h2v1h-2zM581 146h3v1h-3zM1234 146h2v1h-2zM901 167h2v1h-2zM993 167h2v1h-2zM929 181h2v1h-2zM972 181h2v1h-2zM36 559h2v1h-2zM164 393h2v1h-2zM253 393h2v1h-2zM319 393h2v1h-2zM933 183h3v1h-3zM408 348h2v1h-2zM607 140h2v1h-2zM863 140h2v1h-2zM615 136h2v1h-2zM855 136h2v1h-2zM384 366h2v1h-2zM48 551h2v1h-2zM33 561h2v1h-2zM400 354h2v1h-2zM189 379h3v1h-3zM204 379h3v1h-3zM180 383h2v1h-2zM212 383h2v1h-2zM392 360h2v1h-2zM376 372h2v1h-2zM160 396h2v1h-2zM258 396h2v1h-2zM313 396h2v1h-2zM8 569h3v1h-3zM21 565h3v1h-3zM18 566h3v1h-3zM35 560h1v1h-1zM40 557h1v1h-1zM43 555h1v1h-1zM46 553h1v1h-1zM47 552h1v1h-1zM50 550h1v1h-1zM51 549h1v1h-1zM54 547h1v1h-1zM55 546h1v1h-1zM56 545h1v1h-1zM57 544h1v1h-1zM58 543h1v1h-1zM59 542h1v1h-1zM60 541h1v1h-1zM61 540h1v1h-1zM62 539h1v1h-1zM63 538h1v1h-1zM64 537h1v1h-1zM65 536h1v1h-1zM66 535h1v1h-1zM67 534h1v1h-1zM68 533h1v1h-1zM69 532h1v1h-1zM70 531h1v1h-1zM71 529h1v2h-1zM72 528h1v1h-1zM73 527h1v1h-1zM74 526h1v1h-1zM75 525h1v1h-1zM76 524h1v1h-1zM77 522h1v2h-1zM78 521h1v1h-1zM79 519h1v2h-1zM80 517h1v2h-1zM81 516h1v1h-1zM82 514h1v2h-1zM83 513h1v1h-1zM84 511h1v2h-1zM85 509h1v2h-1zM86 508h1v1h-1zM87 506h1v2h-1zM88 505h1v1h-1zM89 503h1v2h-1zM90 502h1v1h-1zM91 500h1v2h-1zM92 498h1v2h-1zM93 497h1v1h-1zM94 495h1v2h-1zM95 494h1v1h-1zM96 492h1v2h-1zM97 491h1v1h-1zM98 489h1v2h-1zM99 488h1v1h-1zM100 487h1v1h-1zM101 485h1v2h-1zM102 484h1v1h-1zM103 483h1v1h-1zM104 481h1v2h-1zM105 480h1v1h-1zM106 479h1v1h-1zM107 477h1v2h-1zM108 476h1v1h-1zM109 474h1v2h-1zM110 473h1v1h-1zM111 471h1v2h-1zM112 470h1v1h-1zM113 469h1v1h-1zM114 467h1v2h-1zM115 466h1v1h-1zM116 465h1v1h-1zM117 463h1v2h-1zM118 462h1v1h-1zM119 460h1v2h-1zM120 458h1v2h-1zM121 457h1v1h-1zM122 455h1v2h-1zM123 454h1v1h-1zM124 452h1v2h-1zM125 450h1v2h-1zM126 449h1v1h-1zM127 447h1v2h-1zM128 445h1v2h-1zM129 443h1v2h-1zM130 442h1v1h-1zM131 440h1v2h-1zM132 438h1v2h-1zM133 436h1v2h-1zM134 435h1v1h-1zM135 433h1v2h-1zM136 431h1v2h-1zM137 429h1v2h-1zM138 427h1v2h-1zM139 425h1v2h-1zM140 423h1v2h-1zM141 421h1v2h-1zM142 420h1v1h-1zM143 418h1v2h-1zM144 416h1v2h-1zM145 415h1v1h-1zM146 413h1v2h-1zM147 412h1v1h-1zM148 410h1v2h-1zM149 408h1v2h-1zM150 407h1v1h-1zM151 406h1v1h-1zM152 405h1v1h-1zM153 404h1v1h-1zM154 402h1v2h-1zM155 401h1v1h-1zM156 400h1v1h-1zM157 399h1v1h-1zM158 398h1v1h-1zM159 397h1v1h-1zM162 395h1v1h-1zM163 394h1v1h-1zM166 392h1v1h-1zM169 390h1v1h-1zM174 387h1v1h-1zM177 385h1v1h-1zM209 381h1v1h-1zM241 386h1v1h-1zM246 389h1v1h-1zM257 395h1v1h-1zM361 383h1v1h-1zM366 380h1v1h-1zM367 379h1v1h-1zM370 377h1v1h-1zM371 376h1v1h-1zM374 374h1v1h-1zM375 373h1v1h-1zM378 371h1v1h-1zM379 370h1v1h-1zM382 368h1v1h-1zM383 367h1v1h-1zM386 365h1v1h-1zM387 364h1v1h-1zM390 362h1v1h-1zM391 361h1v1h-1zM394 359h1v1h-1zM395 358h1v1h-1zM398 356h1v1h-1zM399 355h1v1h-1zM402 353h1v1h-1zM403 352h1v1h-1zM406 350h1v1h-1zM407 349h1v1h-1zM410 347h1v1h-1zM411 346h1v1h-1zM414 344h1v1h-1zM415 343h1v1h-1zM416 342h1v1h-1zM417 341h1v1h-1zM418 340h1v1h-1zM419 339h1v1h-1zM420 338h1v1h-1zM421 337h1v1h-1zM422 336h1v1h-1zM423 335h1v1h-1zM424 333h1v2h-1zM425 332h1v1h-1zM426 331h1v1h-1zM427 330h1v1h-1zM428 328h1v2h-1zM429 327h1v1h-1zM430 326h1v1h-1zM431 325h1v1h-1zM432 323h1v2h-1zM433 322h1v1h-1zM434 321h1v1h-1zM435 320h1v1h-1zM436 318h1v2h-1zM437 317h1v1h-1zM438 316h1v1h-1zM439 315h1v1h-1zM440 313h1v2h-1zM441 312h1v1h-1zM442 311h1v1h-1zM443 310h1v1h-1zM444 308h1v2h-1zM445 307h1v1h-1zM446 306h1v1h-1zM447 304h1v2h-1zM448 303h1v1h-1zM449 302h1v1h-1zM450 300h1v2h-1zM451 299h1v1h-1zM452 298h1v1h-1zM453 296h1v2h-1zM454 295h1v1h-1zM455 293h1v2h-1zM456 291h1v2h-1zM457 289h1v2h-1zM458 288h1v1h-1zM459 286h1v2h-1zM460 284h1v2h-1zM461 282h1v2h-1zM462 281h1v1h-1zM463 279h1v2h-1zM464 277h1v2h-1zM465 275h1v2h-1zM466 274h1v1h-1zM467 272h1v2h-1zM468 270h1v2h-1zM469 268h1v2h-1zM470 267h1v1h-1zM471 265h1v2h-1zM472 263h1v2h-1zM473 262h1v1h-1zM474 260h1v2h-1zM475 259h1v1h-1zM476 257h1v2h-1zM477 255h1v2h-1zM478 254h1v1h-1zM479 252h1v2h-1zM480 251h1v1h-1zM481 249h1v2h-1zM482 248h1v1h-1zM483 246h1v2h-1zM484 245h1v1h-1zM485 243h1v2h-1zM486 242h1v1h-1zM487 240h1v2h-1zM488 238h1v2h-1zM489 236h1v2h-1zM490 235h1v1h-1zM491 233h1v2h-1zM492 231h1v2h-1zM493 229h1v2h-1zM494 228h1v1h-1zM495 226h1v2h-1zM496 225h1v1h-1zM497 224h1v1h-1zM498 222h1v2h-1zM499 221h1v1h-1zM500 220h1v1h-1zM501 218h1v2h-1zM502 217h1v1h-1zM503 216h1v1h-1zM504 214h1v2h-1zM505 213h1v1h-1zM506 212h1v1h-1zM507 211h1v1h-1zM508 209h1v2h-1zM509 208h1v1h-1zM510 207h1v1h-1zM511 205h1v2h-1zM512 204h1v1h-1zM513 203h1v1h-1zM514 201h1v2h-1zM515 200h1v1h-1zM516 199h1v1h-1zM517 197h1v2h-1zM518 196h1v1h-1zM519 194h1v2h-1zM520 192h1v2h-1zM521 190h1v2h-1zM522 188h1v2h-1zM523 186h1v2h-1zM524 184h1v2h-1zM525 182h1v2h-1zM526 181h1v1h-1zM527 179h1v2h-1zM528 178h1v1h-1zM529 177h1v1h-1zM530 175h1v2h-1zM531 174h1v1h-1zM532 173h1v1h-1zM533 171h1v2h-1zM534 170h1v1h-1zM535 169h1v1h-1zM538 167h1v1h-1zM539 166h1v1h-1zM542 164h1v1h-1zM543 163h1v1h-1zM546 161h1v1h-1zM547 160h1v1h-1zM617 135h1v1h-1zM849 132h1v1h-1zM854 135h1v1h-1zM871 144h1v1h-1zM872 145h1v1h-1zM873 146h1v1h-1zM876 148h1v1h-1zM877 149h1v1h-1zM878 150h1v1h-1zM879 151h1v1h-1zM880 152h1v1h-1zM881 153h1v1h-1zM882 154h1v1h-1zM883 155h1v1h-1zM884 156h1v1h-1zM885 157h1v1h-1zM886 158h1v1h-1zM889 160h1v1h-1zM894 163h1v1h-1zM905 169h1v1h-1zM969 183h1v1h-1zM974 180h1v1h-1zM977 178h1v1h-1zM982 175h1v1h-1zM983 174h1v1h-1zM986 172h1v1h-1zM987 171h1v1h-1zM990 169h1v1h-1zM1215 161h1v1h-1zM1218 159h1v1h-1zM1219 158h1v1h-1zM1222 156h1v1h-1zM1223 155h1v1h-1zM1226 153h1v1h-1zM1227 152h1v1h-1zM1230 150h1v1h-1zM1231 149h1v1h-1zM1232 148h1v1h-1zM1233 147h1v1h-1zM1236 145h1v1h-1zM1237 144h1v1h-1zM1238 143h1v1h-1zM1239 142h1v1h-1zM1240 141h1v1h-1zM1241 140h1v1h-1zM1242 139h1v1h-1zM1243 138h1v1h-1zM1244 137h1v1h-1zM1245 136h1v1h-1zM1255 131h1v1h-1zM1258 129h1v1h-1zM1259 128h1v1h-1zM1262 126h1v1h-1z" fill="#ff0000"/>
<path d="M546 138h3v1h-3zM554 138h5v1h-5zM587 148h2v1h-2zM984 148h4v1h-4zM992 148h4v1h-4zM801 122h2v1h-2zM809 122h2v1h-2zM1246 122h4v1h-4zM250 390h3v1h-3zM256 390h2v1h-2zM316 390h2v1h-2zM891 212h2v1h-2zM895 212h2v1h-2zM1072 128h2v1h-2zM1093 128h2v1h-2zM528 141h2v1h-2zM663 141h2v1h-2zM675 141h2v1h-2zM1214 141h4v1h-4zM1088 126h2v1h-2zM1240 126h2v1h-2zM813 124h5v1h-5zM824 124h4v1h-4zM832 124h4v1h-4zM1078 124h4v1h-4zM533 139h5v1h-5zM544 139h2v1h-2zM1226 139h5v1h-5zM1090 127h3v1h-3zM1194 127h2v1h-2zM753 132h2v1h-2zM772 132h2v1h-2zM776 132h4v1h-4zM786 132h5v1h-5zM1098 132h2v1h-2zM965 163h2v1h-2zM624 110h2v1h-2zM632 110h2v1h-2zM496 155h2v1h-2zM572 155h2v1h-2zM575 155h2v1h-2zM410 312h3v1h-3zM669 144h2v1h-2zM585 149h2v1h-2zM981 149h3v1h-3zM996 149h11v1h-11zM932 180h2v1h-2zM197 398h2v1h-2zM231 398h2v1h-2zM288 398h4v1h-4zM954 167h5v1h-5zM893 213h2v1h-2zM335 376h2v1h-2zM751 131h2v1h-2zM774 131h2v1h-2zM1199 131h2v1h-2zM138 364h3v1h-3zM360 364h2v1h-2zM667 143h2v1h-2zM671 143h2v1h-2zM948 169h2v1h-2zM1042 169h2v1h-2zM908 205h2v1h-2zM1134 205h4v1h-4zM1143 205h2v1h-2zM134 366h2v1h-2zM354 366h5v1h-5zM253 389h3v1h-3zM1037 173h2v1h-2zM589 147h2v1h-2zM988 147h4v1h-4zM818 125h6v1h-6zM836 125h3v1h-3zM1076 125h2v1h-2zM1082 125h6v1h-6zM940 174h2v1h-2zM1035 174h2v1h-2zM155 358h2v1h-2zM757 134h3v1h-3zM1204 134h2v1h-2zM1261 117h2v1h-2zM34 541h6v1h-6zM936 177h2v1h-2zM201 400h2v1h-2zM270 400h2v1h-2zM283 400h2v1h-2zM205 402h2v1h-2zM274 402h3v1h-3zM279 402h2v1h-2zM530 140h3v1h-3zM538 140h6v1h-6zM677 140h2v1h-2zM1212 140h2v1h-2zM1218 140h8v1h-8zM190 395h2v1h-2zM237 395h3v1h-3zM306 395h5v1h-5zM248 391h2v1h-2zM258 391h3v1h-3zM760 135h4v1h-4zM767 135h2v1h-2zM501 153h3v1h-3zM578 153h2v1h-2zM1031 176h2v1h-2zM14 535h4v1h-4zM498 154h3v1h-3zM194 397h3v1h-3zM233 397h2v1h-2zM292 397h6v1h-6zM961 165h2v1h-2zM642 118h2v1h-2zM1259 118h2v1h-2zM203 401h2v1h-2zM272 401h2v1h-2zM281 401h2v1h-2zM402 317h2v1h-2zM526 142h2v1h-2zM665 142h2v1h-2zM673 142h2v1h-2zM943 172h2v1h-2zM629 108h2v1h-2zM732 108h2v1h-2zM504 152h4v1h-4zM514 152h5v1h-5zM568 152h2v1h-2zM580 152h2v1h-2zM975 152h2v1h-2zM946 170h2v1h-2zM803 121h2v1h-2zM807 121h2v1h-2zM1250 121h5v1h-5zM950 168h4v1h-4zM903 208h2v1h-2zM583 150h2v1h-2zM979 150h2v1h-2zM1033 175h2v1h-2zM887 210h2v1h-2zM899 210h2v1h-2zM636 113h2v1h-2zM240 394h2v1h-2zM508 151h6v1h-6zM977 151h2v1h-2zM192 396h2v1h-2zM235 396h2v1h-2zM298 396h8v1h-8zM157 359h2v1h-2zM755 133h2v1h-2zM770 133h2v1h-2zM780 133h6v1h-6zM1202 133h2v1h-2zM626 109h3v1h-3zM930 181h2v1h-2zM18 536h5v1h-5zM549 137h5v1h-5zM658 137h2v1h-2zM1208 137h2v1h-2zM714 96h5v1h-5zM1257 119h2v1h-2zM959 166h2v1h-2zM622 111h2v1h-2zM1145 204h2v1h-2zM29 540h5v1h-5zM40 540h4v1h-4zM963 164h2v1h-2zM141 363h2v1h-2zM164 363h2v1h-2zM889 211h2v1h-2zM897 211h2v1h-2zM364 361h2v1h-2zM162 362h2v1h-2zM906 206h2v1h-2zM1138 206h5v1h-5zM799 123h2v1h-2zM811 123h2v1h-2zM828 123h4v1h-4zM1244 123h2v1h-2zM728 105h2v1h-2zM408 313h2v1h-2zM494 156h2v1h-2zM805 120h2v1h-2zM1255 120h2v1h-2zM338 374h2v1h-2zM242 393h3v1h-3zM312 393h2v1h-2zM245 392h3v1h-3zM261 392h2v1h-2zM214 409h9v1h-9zM170 368h2v1h-2zM346 368h2v1h-2zM901 209h2v1h-2zM927 183h2v1h-2zM321 387h2v1h-2zM618 114h2v1h-2zM710 97h4v1h-4zM764 136h3v1h-3zM323 386h2v1h-2zM319 388h2v1h-2zM277 403h2v1h-2zM153 357h2v1h-2zM136 365h2v1h-2zM350 365h4v1h-4zM151 356h2v1h-2zM370 356h2v1h-2zM406 314h2v1h-2zM23 537h2v1h-2zM325 385h2v1h-2zM922 187h2v1h-2zM159 360h2v1h-2zM199 399h2v1h-2zM285 399h3v1h-3zM1149 202h2v1h-2zM1147 203h2v1h-2zM27 539h2v1h-2zM44 539h3v1h-3zM210 406h2v1h-2zM340 373h2v1h-2zM25 538h2v1h-2zM722 100h2v1h-2zM413 311h2v1h-2zM6 544h1v1h-1zM7 543h1v1h-1zM8 542h1v1h-1zM9 541h1v1h-1zM10 539h1v2h-1zM11 538h1v1h-1zM12 537h1v1h-1zM13 536h1v1h-1zM47 537h1v2h-1zM48 535h1v2h-1zM49 533h1v2h-1zM50 531h1v2h-1zM51 529h1v2h-1zM52 527h1v2h-1zM53 525h1v2h-1zM54 522h1v3h-1zM55 520h1v2h-1zM56 518h1v2h-1zM57 516h1v2h-1zM58 513h1v3h-1zM59 511h1v2h-1zM60 509h1v2h-1zM61 507h1v2h-1zM62 504h1v3h-1zM63 502h1v2h-1zM64 500h1v2h-1zM65 497h1v3h-1zM66 495h1v2h-1zM67 492h1v3h-1zM68 490h1v2h-1zM69 488h1v2h-1zM70 486h1v2h-1zM71 484h1v2h-1zM72 482h1v2h-1zM73 480h1v2h-1zM74 479h1v1h-1zM75 477h1v2h-1zM76 475h1v2h-1zM77 473h1v2h-1zM78 471h1v2h-1zM79 469h1v2h-1zM80 467h1v2h-1zM81 465h1v2h-1zM82 462h1v3h-1zM83 460h1v2h-1zM84 458h1v2h-1zM85 456h1v2h-1zM86 454h1v2h-1zM87 452h1v2h-1zM88 450h1v2h-1zM89 448h1v2h-1zM90 446h1v2h-1zM91 444h1v2h-1zM92 442h1v2h-1zM93 440h1v2h-1zM94 437h1v3h-1zM95 435h1v2h-1zM96 433h1v2h-1zM97 430h1v3h-1zM98 428h1v2h-1zM99 425h1v3h-1zM100 423h1v2h-1zM101 421h1v2h-1zM102 418h1v3h-1zM103 416h1v2h-1zM104 414h1v2h-1zM105 412h1v2h-1zM106 409h1v3h-1zM107 407h1v2h-1zM108 405h1v2h-1zM109 403h1v2h-1zM110 401h1v2h-1zM111 399h1v2h-1zM112 397h1v2h-1zM113 395h1v2h-1zM114 393h1v2h-1zM115 391h1v2h-1zM116 389h1v2h-1zM117 387h1v2h-1zM118 386h1v1h-1zM119 384h1v2h-1zM120 383h1v1h-1zM121 382h1v1h-1zM122 380h1v2h-1zM123 379h1v1h-1zM124 378h1v1h-1zM125 376h1v2h-1zM126 375h1v1h-1zM127 374h1v1h-1zM128 373h1v1h-1zM129 372h1v1h-1zM130 370h1v2h-1zM131 369h1v1h-1zM132 368h1v1h-1zM133 367h1v1h-1zM143 362h1v1h-1zM144 361h1v1h-1zM145 360h1v1h-1zM146 359h1v1h-1zM147 358h1v1h-1zM148 357h1v1h-1zM149 356h1v1h-1zM150 355h1v1h-1zM161 361h1v1h-1zM166 364h1v1h-1zM167 365h1v1h-1zM168 366h1v1h-1zM169 367h1v1h-1zM172 369h1v1h-1zM173 370h1v1h-1zM174 371h1v1h-1zM175 372h1v1h-1zM176 373h1v1h-1zM177 374h1v1h-1zM178 375h1v2h-1zM179 377h1v1h-1zM180 378h1v1h-1zM181 379h1v1h-1zM182 380h1v1h-1zM183 381h1v2h-1zM184 383h1v2h-1zM185 385h1v2h-1zM186 387h1v2h-1zM187 389h1v2h-1zM188 391h1v2h-1zM189 393h1v2h-1zM207 403h1v1h-1zM208 404h1v1h-1zM209 405h1v1h-1zM212 407h1v1h-1zM213 408h1v1h-1zM223 408h1v1h-1zM224 406h1v2h-1zM225 405h1v1h-1zM226 404h1v1h-1zM227 403h1v1h-1zM228 401h1v2h-1zM229 400h1v1h-1zM230 399h1v1h-1zM263 393h1v1h-1zM264 394h1v1h-1zM265 395h1v1h-1zM266 396h1v1h-1zM267 397h1v1h-1zM268 398h1v1h-1zM269 399h1v1h-1zM311 394h1v1h-1zM314 392h1v1h-1zM315 391h1v1h-1zM318 389h1v1h-1zM327 384h1v1h-1zM328 383h1v1h-1zM329 382h1v1h-1zM330 381h1v1h-1zM331 380h1v1h-1zM332 379h1v1h-1zM333 378h1v1h-1zM334 377h1v1h-1zM337 375h1v1h-1zM342 372h1v1h-1zM343 371h1v1h-1zM344 370h1v1h-1zM345 369h1v1h-1zM348 367h1v1h-1zM349 366h1v1h-1zM359 365h1v1h-1zM362 363h1v1h-1zM363 362h1v1h-1zM366 360h1v1h-1zM367 359h1v1h-1zM368 358h1v1h-1zM369 357h1v1h-1zM372 355h1v1h-1zM373 354h1v1h-1zM374 353h1v1h-1zM375 352h1v1h-1zM376 351h1v1h-1zM377 350h1v1h-1zM378 348h1v2h-1zM379 347h1v1h-1zM380 346h1v1h-1zM381 345h1v1h-1zM382 344h1v1h-1zM383 342h1v2h-1zM384 341h1v1h-1zM385 340h1v1h-1zM386 338h1v2h-1zM387 337h1v1h-1zM388 336h1v1h-1zM389 334h1v2h-1zM390 333h1v1h-1zM391 331h1v2h-1zM392 330h1v1h-1zM393 328h1v2h-1zM394 327h1v1h-1zM395 325h1v2h-1zM396 324h1v1h-1zM397 322h1v2h-1zM398 321h1v1h-1zM399 320h1v1h-1zM400 319h1v1h-1zM401 318h1v1h-1zM404 316h1v1h-1zM405 315h1v1h-1zM415 310h1v1h-1zM416 309h1v1h-1zM417 308h1v1h-1zM418 307h1v1h-1zM419 306h1v1h-1zM420 305h1v1h-1zM421 304h1v1h-1zM422 303h1v1h-1zM423 301h1v2h-1zM424 299h1v2h-1zM425 297h1v2h-1zM426 296h1v1h-1zM427 294h1v2h-1zM428 292h1v2h-1zM429 290h1v2h-1zM430 288h1v2h-1zM431 286h1v2h-1zM432 284h1v2h-1zM433 282h1v2h-1zM434 280h1v2h-1zM435 278h1v2h-1zM436 276h1v2h-1zM437 274h1v2h-1zM438 271h1v3h-1zM439 269h1v2h-1zM440 267h1v2h-1zM441 265h1v2h-1zM442 262h1v3h-1zM443 260h1v2h-1zM444 258h1v2h-1zM445 256h1v2h-1zM446 253h1v3h-1zM447 251h1v2h-1zM448 249h1v2h-1zM449 247h1v2h-1zM450 244h1v3h-1zM451 242h1v2h-1zM452 240h1v2h-1zM453 238h1v2h-1zM454 235h1v3h-1zM455 232h1v3h-1zM456 229h1v3h-1zM457 226h1v3h-1zM458 224h1v2h-1zM459 221h1v3h-1zM460 218h1v3h-1zM461 215h1v3h-1zM462 213h1v2h-1zM463 211h1v2h-1zM464 209h1v2h-1zM465 208h1v1h-1zM466 206h1v2h-1zM467 205h1v1h-1zM468 203h1v2h-1zM469 201h1v2h-1zM470 200h1v1h-1zM471 198h1v2h-1zM472 196h1v2h-1zM473 195h1v1h-1zM474 193h1v2h-1zM475 192h1v1h-1zM476 190h1v2h-1zM477 188h1v2h-1zM478 187h1v1h-1zM479 185h1v2h-1zM480 183h1v2h-1zM481 181h1v2h-1zM482 180h1v1h-1zM483 178h1v2h-1zM484 176h1v2h-1zM485 174h1v2h-1zM486 172h1v2h-1zM487 170h1v2h-1zM488 168h1v2h-1zM489 166h1v2h-1zM490 164h1v2h-1zM491 162h1v2h-1zM492 160h1v2h-1zM493 158h1v2h-1zM494 157h1v1h-1zM519 151h1v1h-1zM520 149h1v2h-1zM521 148h1v1h-1zM522 147h1v1h-1zM523 146h1v1h-1zM524 144h1v2h-1zM525 143h1v1h-1zM559 139h1v2h-1zM560 141h1v1h-1zM561 142h1v2h-1zM562 144h1v1h-1zM563 145h1v2h-1zM564 147h1v1h-1zM565 148h1v2h-1zM566 150h1v1h-1zM567 151h1v1h-1zM570 153h1v1h-1zM571 154h1v1h-1zM574 156h1v1h-1zM577 154h1v1h-1zM582 151h1v1h-1zM591 146h1v1h-1zM592 145h1v1h-1zM593 144h1v1h-1zM594 143h1v1h-1zM595 142h1v1h-1zM596 141h1v1h-1zM597 140h1v1h-1zM598 139h1v1h-1zM599 138h1v1h-1zM600 137h1v1h-1zM601 136h1v1h-1zM602 134h1v2h-1zM603 133h1v1h-1zM604 132h1v1h-1zM605 131h1v1h-1zM606 130h1v1h-1zM607 128h1v2h-1zM608 127h1v1h-1zM609 125h1v2h-1zM610 124h1v1h-1zM611 122h1v2h-1zM612 121h1v1h-1zM613 119h1v2h-1zM614 118h1v1h-1zM615 117h1v1h-1zM616 116h1v1h-1zM617 115h1v1h-1zM620 113h1v1h-1zM621 112h1v1h-1zM631 109h1v1h-1zM634 111h1v1h-1zM635 112h1v1h-1zM638 114h1v1h-1zM639 115h1v1h-1zM640 116h1v1h-1zM641 117h1v1h-1zM644 119h1v1h-1zM645 120h1v1h-1zM646 121h1v1h-1zM647 122h1v2h-1zM648 124h1v1h-1zM649 125h1v2h-1zM650 127h1v1h-1zM651 128h1v2h-1zM652 130h1v1h-1zM653 131h1v2h-1zM654 133h1v1h-1zM655 134h1v1h-1zM656 135h1v1h-1zM657 136h1v1h-1zM660 138h1v1h-1zM661 139h1v1h-1zM662 140h1v1h-1zM679 139h1v1h-1zM680 137h1v2h-1zM681 136h1v1h-1zM682 135h1v1h-1zM683 134h1v1h-1zM684 132h1v2h-1zM685 131h1v1h-1zM686 130h1v1h-1zM687 129h1v1h-1zM688 128h1v1h-1zM689 127h1v1h-1zM690 126h1v1h-1zM691 125h1v1h-1zM692 124h1v1h-1zM693 123h1v1h-1zM694 122h1v1h-1zM695 120h1v2h-1zM696 119h1v1h-1zM697 117h1v2h-1zM698 116h1v1h-1zM699 114h1v2h-1zM700 113h1v1h-1zM701 111h1v2h-1zM702 110h1v1h-1zM703 108h1v2h-1zM704 106h1v2h-1zM705 105h1v1h-1zM706 103h1v2h-1zM707 102h1v1h-1zM708 100h1v2h-1zM709 98h1v2h-1zM719 97h1v1h-1zM720 98h1v1h-1zM721 99h1v1h-1zM724 101h1v1h-1zM725 102h1v1h-1zM726 103h1v1h-1zM727 104h1v1h-1zM730 106h1v1h-1zM731 107h1v1h-1zM734 109h1v1h-1zM735 110h1v1h-1zM736 111h1v1h-1zM737 112h1v1h-1zM738 113h1v2h-1zM739 115h1v1h-1zM740 116h1v1h-1zM741 117h1v1h-1zM742 118h1v1h-1zM743 119h1v2h-1zM744 121h1v1h-1zM745 122h1v2h-1zM746 124h1v1h-1zM747 125h1v2h-1zM748 127h1v1h-1zM749 128h1v2h-1zM750 130h1v1h-1zM769 134h1v1h-1zM791 131h1v1h-1zM792 130h1v1h-1zM793 129h1v1h-1zM794 128h1v1h-1zM795 127h1v1h-1zM796 126h1v1h-1zM797 125h1v1h-1zM798 124h1v1h-1zM839 126h1v1h-1zM840 127h1v2h-1zM841 129h1v1h-1zM842 130h1v1h-1zM843 131h1v1h-1zM844 132h1v2h-1zM845 134h1v1h-1zM846 135h1v1h-1zM847 136h1v2h-1zM848 138h1v1h-1zM849 139h1v2h-1zM850 141h1v1h-1zM851 142h1v2h-1zM852 144h1v1h-1zM853 145h1v2h-1zM854 147h1v1h-1zM855 148h1v2h-1zM856 150h1v2h-1zM857 152h1v1h-1zM858 153h1v2h-1zM859 155h1v1h-1zM860 156h1v2h-1zM861 158h1v2h-1zM862 160h1v2h-1zM863 162h1v2h-1zM864 164h1v2h-1zM865 166h1v2h-1zM866 168h1v2h-1zM867 170h1v2h-1zM868 172h1v2h-1zM869 174h1v2h-1zM870 176h1v3h-1zM871 179h1v2h-1zM872 181h1v3h-1zM873 184h1v3h-1zM874 187h1v2h-1zM875 189h1v3h-1zM876 192h1v3h-1zM877 195h1v2h-1zM878 197h1v2h-1zM879 199h1v2h-1zM880 201h1v1h-1zM881 202h1v1h-1zM882 203h1v2h-1zM883 205h1v1h-1zM884 206h1v1h-1zM885 207h1v2h-1zM886 209h1v1h-1zM905 207h1v1h-1zM910 204h1v1h-1zM911 202h1v2h-1zM912 200h1v2h-1zM913 199h1v1h-1zM914 197h1v2h-1zM915 196h1v1h-1zM916 194h1v2h-1zM917 192h1v2h-1zM918 191h1v1h-1zM919 190h1v1h-1zM920 189h1v1h-1zM921 188h1v1h-1zM924 186h1v1h-1zM925 185h1v1h-1zM926 184h1v1h-1zM929 182h1v1h-1zM934 179h1v1h-1zM935 178h1v1h-1zM938 176h1v1h-1zM939 175h1v1h-1zM942 173h1v1h-1zM945 171h1v1h-1zM967 162h1v1h-1zM968 160h1v2h-1zM969 159h1v1h-1zM970 158h1v1h-1zM971 157h1v1h-1zM972 155h1v2h-1zM973 154h1v1h-1zM974 153h1v1h-1zM1007 150h1v2h-1zM1008 152h1v1h-1zM1009 153h1v1h-1zM1010 154h1v2h-1zM1011 156h1v1h-1zM1012 157h1v1h-1zM1013 158h1v2h-1zM1014 160h1v1h-1zM1015 161h1v1h-1zM1016 162h1v1h-1zM1017 163h1v1h-1zM1018 164h1v2h-1zM1019 166h1v1h-1zM1020 167h1v1h-1zM1021 168h1v1h-1zM1022 169h1v1h-1zM1023 170h1v1h-1zM1024 171h1v1h-1zM1025 172h1v1h-1zM1026 173h1v1h-1zM1027 174h1v1h-1zM1028 175h1v1h-1zM1029 176h1v1h-1zM1030 177h1v1h-1zM1039 172h1v1h-1zM1040 171h1v1h-1zM1041 170h1v1h-1zM1044 168h1v1h-1zM1045 167h1v1h-1zM1046 166h1v1h-1zM1047 164h1v2h-1zM1048 162h1v2h-1zM1049 160h1v2h-1zM1050 158h1v2h-1zM1051 156h1v2h-1zM1052 154h1v2h-1zM1053 152h1v2h-1zM1054 151h1v1h-1zM1055 150h1v1h-1zM1056 149h1v1h-1zM1057 148h1v1h-1zM1058 146h1v2h-1zM1059 145h1v1h-1zM1060 144h1v1h-1zM1061 143h1v1h-1zM1062 142h1v1h-1zM1063 140h1v2h-1zM1064 139h1v1h-1zM1065 137h1v2h-1zM1066 136h1v1h-1zM1067 134h1v2h-1zM1068 133h1v1h-1zM1069 131h1v2h-1zM1070 130h1v1h-1zM1071 129h1v1h-1zM1074 127h1v1h-1zM1075 126h1v1h-1zM1095 129h1v1h-1zM1096 130h1v1h-1zM1097 131h1v1h-1zM1100 133h1v1h-1zM1101 134h1v1h-1zM1102 135h1v2h-1zM1103 137h1v2h-1zM1104 139h1v2h-1zM1105 141h1v2h-1zM1106 143h1v2h-1zM1107 145h1v2h-1zM1108 147h1v2h-1zM1109 149h1v2h-1zM1110 151h1v3h-1zM1111 154h1v2h-1zM1112 156h1v2h-1zM1113 158h1v3h-1zM1114 161h1v2h-1zM1115 163h1v3h-1zM1116 166h1v2h-1zM1117 168h1v2h-1zM1118 170h1v2h-1zM1119 172h1v2h-1zM1120 174h1v2h-1zM1121 176h1v2h-1zM1122 178h1v2h-1zM1123 180h1v2h-1zM1124 182h1v2h-1zM1125 184h1v2h-1zM1126 186h1v2h-1zM1127 188h1v2h-1zM1128 190h1v2h-1zM1129 192h1v3h-1zM1130 195h1v2h-1zM1131 197h1v3h-1zM1132 200h1v2h-1zM1133 202h1v2h-1zM1134 204h1v1h-1zM1150 201h1v1h-1zM1151 199h1v2h-1zM1152 197h1v2h-1zM1153 195h1v2h-1zM1154 193h1v2h-1zM1155 191h1v2h-1zM1156 189h1v2h-1zM1157 187h1v2h-1zM1158 184h1v3h-1zM1159 182h1v2h-1zM1160 179h1v3h-1zM1161 176h1v3h-1zM1162 174h1v2h-1zM1163 171h1v3h-1zM1164 168h1v3h-1zM1165 166h1v2h-1zM1166 163h1v3h-1zM1167 160h1v3h-1zM1168 158h1v2h-1zM1169 155h1v3h-1zM1170 152h1v3h-1zM1171 149h1v3h-1zM1172 147h1v2h-1zM1173 144h1v3h-1zM1174 142h1v2h-1zM1175 141h1v1h-1zM1176 140h1v1h-1zM1177 139h1v1h-1zM1178 137h1v2h-1zM1179 136h1v1h-1zM1180 135h1v1h-1zM1181 134h1v1h-1zM1182 133h1v1h-1zM1183 132h1v1h-1zM1184 130h1v2h-1zM1185 129h1v1h-1zM1186 128h1v1h-1zM1187 127h1v1h-1zM1188 125h1v2h-1zM1189 124h1v1h-1zM1190 123h1v1h-1zM1191 124h1v1h-1zM1192 125h1v1h-1zM1193 126h1v1h-1zM1196 128h1v1h-1zM1197 129h1v1h-1zM1198 130h1v1h-1zM1201 132h1v1h-1zM1206 135h1v1h-1zM1207 136h1v1h-1zM1210 138h1v1h-1zM1211 139h1v1h-1zM1231 137h1v2h-1zM1232 136h1v1h-1zM1233 135h1v1h-1zM1234 133h1v2h-1zM1235 132h1v1h-1zM1236 131h1v1h-1zM1237 129h1v2h-1zM1238 128h1v1h-1zM1239 127h1v1h-1zM1242 125h1v1h-1zM1243 124h1v1h-1z" fill="#ffa500"/>
<rect x="6" y="51" width="1592" height="2" fill="#ff0000"/>
<rect x="6" y="97" width="1592" height="2" fill="#ff0000"/>
<rect x="6" y="141" width="1592" height="2" fill="#00ff00"/>
<rect x="6" y="187" width="1592" height="2" fill="#0000ff"/>
<rect x="6" y="232" width="1592" height="2" fill="#0000ff"/>
<rect x="5" y="49" width="6" height="6" fill="#ff0000"/>
<rect x="7" y="51" width="2" height="2" fill="#ffffff"/>
<rect x="1592" y="49" width="6" height="6" fill="#ff0000"/>
<rect x="1594" y="51" width="2" height="2" fill="#ffffff"/>
<rect x="5" y="95" width="6" height="6" fill="#ff0000"/>
<rect x="7" y="97" width="2" height="2" fill="#ffffff"/>
<rect x="1592" y="95" width="6" height="6" fill="#ff0000"/>
<rect x="1594" y="97" width="2" height="2" fill="#ffffff"/>
<rect x="5" y="139" width="6" height="6" fill="#00ff00"/>
<rect x="7" y="141" width="2" height="2" fill="#ffffff"/>
<rect x="1592" y="139" width="6" height="6" fill="#00ff00"/>
<rect x="1594" y="141" width="2" height="2" fill="#ffffff"/>
<rect x="5" y="185" width="6" height="6" fill="#0000ff"/>
<rect x="7" y="187" width="2" height="2" fill="#ffffff"/>
<rect x="1592" y="185" width="6" height="6" fill="#0000ff"/>
<rect x="1594" y="187" width="2" height="2" fill="#ffffff"/>
<rect x="5" y="230" width="6" height="6" fill="#0000ff"/>
<rect x="7" y="232" width="2" height="2" fill="#ffffff"/>
<rect x="1592" y="230" width="6" height="6" fill="#0000ff"/>
<rect x="1594" y="232" width="2" height="2" fill="#ffffff"/>
</g>
<path d="M9 28 L16 28 L12.5 32 Z" fill="#000" shape-rendering="auto"/>
<text x="21.6" y="33" font-size="9.6" fill="#000" textLength="63.1" lengthAdjust="spacingAndGlyphs" stroke="#000" stroke-width="0.15">EURUSD,Daily</text>
<text x="91.7" y="33" font-size="9.6" fill="#000" textLength="140.3" lengthAdjust="spacingAndGlyphs" stroke="#000" stroke-width="0.15">1.18388 1.18815 1.18338 1.18746</text>
<rect x="1599" y="79" width="2" height="1" fill="#000"/>
<text x="1604.6" y="82.7" font-size="9.7" fill="#000" textLength="32" lengthAdjust="spacingAndGlyphs" stroke="#000" stroke-width="0.15">1.19410</text>
<rect x="1599" y="112" width="2" height="1" fill="#000"/>
<text x="1604.6" y="115.7" font-size="9.7" fill="#000" textLength="32" lengthAdjust="spacingAndGlyphs" stroke="#000" stroke-width="0.15">1.18680</text>
<rect x="1599" y="145" width="2" height="1" fill="#000"/>
<text x="1604.6" y="148.7" font-size="9.7" fill="#000" textLength="32" lengthAdjust="spacingAndGlyphs" stroke="#000" stroke-width="0.15">1.17950</text>
<rect x="1599" y="178" width="2" height="1" fill="#000"/>
<text x="1604.6" y="181.7" font-size="9.7" fill="#000" textLength="32" lengthAdjust="spacingAndGlyphs" stroke="#000" stroke-width="0.15">1.17230</text>
<rect x="1599" y="211" width="2" height="1" fill="#000"/>
<text x="1604.6" y="214.7" font-size="9.7" fill="#000" textLength="32" lengthAdjust="spacingAndGlyphs" stroke="#000" stroke-width="0.15">1.16490</text>
<rect x="1599" y="244" width="2" height="1" fill="#000"/>
<text x="1604.6" y="247.7" font-size="9.7" fill="#000" textLength="32" lengthAdjust="spacingAndGlyphs" stroke="#000" stroke-width="0.15">1.15770</text>
<rect x="1599" y="277" width="2" height="1" fill="#000"/>
<text x="1604.6" y="280.7" font-size="9.7" fill="#000" textLength="32" lengthAdjust="spacingAndGlyphs" stroke="#000" stroke-width="0.15">1.15030</text>
<rect x="1599" y="310" width="2" height="1" fill="#000"/>
<text x="1604.6" y="313.7" font-size="9.7" fill="#000" textLength="32" lengthAdjust="spacingAndGlyphs" stroke="#000" stroke-width="0.15">1.14310</text>
<rect x="1599" y="343" width="2" height="1" fill="#000"/>
<text x="1604.6" y="346.7" font-size="9.7" fill="#000" textLength="32" lengthAdjust="spacingAndGlyphs" stroke="#000" stroke-width="0.15">1.13570</text>
<rect x="1599" y="376" width="2" height="1" fill="#000"/>
<text x="1604.6" y="379.7" font-size="9.7" fill="#000" textLength="32" lengthAdjust="spacingAndGlyphs" stroke="#000" stroke-width="0.15">1.12850</text>
<rect x="1599" y="409" width="2" height="1" fill="#000"/>
<text x="1604.6" y="412.7" font-size="9.7" fill="#000" textLength="32" lengthAdjust="spacingAndGlyphs" stroke="#000" stroke-width="0.15">1.12110</text>
<rect x="1599" y="442" width="2" height="1" fill="#000"/>
<text x="1604.6" y="445.7" font-size="9.7" fill="#000" textLength="32" lengthAdjust="spacingAndGlyphs" stroke="#000" stroke-width="0.15">1.11390</text>
<rect x="1599" y="475" width="2" height="1" fill="#000"/>
<text x="1604.6" y="478.7" font-size="9.7" fill="#000" textLength="32" lengthAdjust="spacingAndGlyphs" stroke="#000" stroke-width="0.15">1.10650</text>
<rect x="1599" y="508" width="2" height="1" fill="#000"/>
<text x="1604.6" y="511.7" font-size="9.7" fill="#000" textLength="32" lengthAdjust="spacingAndGlyphs" stroke="#000" stroke-width="0.15">1.09930</text>
<rect x="1599" y="541" width="2" height="1" fill="#000"/>
<text x="1604.6" y="544.7" font-size="9.7" fill="#000" textLength="32" lengthAdjust="spacingAndGlyphs" stroke="#000" stroke-width="0.15">1.09190</text>
<rect x="1599" y="574" width="2" height="1" fill="#000"/>
<text x="1604.6" y="577.7" font-size="9.7" fill="#000" textLength="32" lengthAdjust="spacingAndGlyphs" stroke="#000" stroke-width="0.15">1.08470</text>
<rect x="1599" y="46" width="2" height="1" fill="#000"/>
<text x="1604.6" y="49.7" font-size="9.7" fill="#000" textLength="32" lengthAdjust="spacingAndGlyphs" stroke="#000" stroke-width="0.15">1.20150</text>
<rect x="1600" y="46" width="41" height="11" fill="#ff0000"/>
<text x="1604.6" y="55" font-size="9.7" fill="#ffffff" textLength="32" lengthAdjust="spacingAndGlyphs" stroke="#fff" stroke-width="0.3">1.20019</text>
<rect x="1600" y="92" width="41" height="11" fill="#ff0000"/>
<text x="1604.6" y="101" font-size="9.7" fill="#ffffff" textLength="32" lengthAdjust="spacingAndGlyphs" stroke="#fff" stroke-width="0.3">1.19008</text>
<rect x="1600" y="104" width="41" height="11" fill="#000000"/>
<text x="1604.6" y="113" font-size="9.7" fill="#ffffff" textLength="32" lengthAdjust="spacingAndGlyphs" stroke="#fff" stroke-width="0.3">1.18746</text>
<rect x="1600" y="137" width="41" height="11" fill="#00ff00"/>
<text x="1604.6" y="146" font-size="9.7" fill="#ffffff" textLength="32" lengthAdjust="spacingAndGlyphs" stroke="#fff" stroke-width="0.3">1.18024</text>
<rect x="1600" y="182" width="41" height="11" fill="#0000ff"/>
<text x="1604.6" y="191" font-size="9.7" fill="#ffffff" textLength="32" lengthAdjust="spacingAndGlyphs" stroke="#fff" stroke-width="0.3">1.17014</text>
<rect x="1600" y="228" width="41" height="11" fill="#0000ff"/>
<text x="1604.6" y="237" font-size="9.7" fill="#ffffff" textLength="32" lengthAdjust="spacingAndGlyphs" stroke="#fff" stroke-width="0.3">1.16003</text>
<g clip-path="url(#cr)">
<line x1="1" y1="610.5" x2="1598" y2="610.5" stroke="#c0c0c0" stroke-width="1" stroke-dasharray="3,3"/>
<line x1="1" y1="650.5" x2="1598" y2="650.5" stroke="#c0c0c0" stroke-width="1" stroke-dasharray="3,3"/>
<path d="M93 605h3v1h-3zM109 605h13v1h-13zM128 605h4v1h-4zM519 605h2v1h-2zM455 597h2v1h-2zM467 597h2v1h-2zM472 597h4v1h-4zM430 600h2v1h-2zM36 624h2v1h-2zM189 624h5v1h-5zM218 624h2v1h-2zM312 624h2v1h-2zM357 624h2v1h-2zM660 624h6v1h-6zM674 624h5v1h-5zM974 624h10v1h-10zM1043 624h2v1h-2zM1060 624h2v1h-2zM1066 624h6v1h-6zM1158 624h2v1h-2zM1179 624h2v1h-2zM1233 624h2v1h-2zM1249 624h2v1h-2zM1258 624h3v1h-3zM160 620h2v1h-2zM172 620h11v1h-11zM223 620h2v1h-2zM236 620h2v1h-2zM318 620h10v1h-10zM337 620h2v1h-2zM362 620h2v1h-2zM557 620h3v1h-3zM1053 620h2v1h-2zM902 636h9v1h-9zM924 636h2v1h-2zM930 636h5v1h-5zM1020 636h11v1h-11zM754 632h3v1h-3zM760 632h4v1h-4zM916 632h2v1h-2zM1004 632h3v1h-3zM1142 632h2v1h-2zM50 618h2v1h-2zM226 618h2v1h-2zM332 618h3v1h-3zM553 618h2v1h-2zM564 618h4v1h-4zM692 618h3v1h-3zM38 623h4v1h-4zM187 623h2v1h-2zM354 623h3v1h-3zM1045 623h3v1h-3zM1058 623h2v1h-2zM1072 623h2v1h-2zM1080 623h2v1h-2zM1160 623h2v1h-2zM1177 623h2v1h-2zM1235 623h2v1h-2zM1247 623h2v1h-2zM1261 623h2v1h-2zM848 641h2v1h-2zM10 627h2v1h-2zM32 627h2v1h-2zM202 627h3v1h-3zM258 627h8v1h-8zM292 627h6v1h-6zM640 627h4v1h-4zM718 627h4v1h-4zM738 627h3v1h-3zM743 627h2v1h-2zM777 627h2v1h-2zM794 627h3v1h-3zM800 627h4v1h-4zM829 627h10v1h-10zM942 627h4v1h-4zM970 627h2v1h-2zM1086 627h4v1h-4zM1188 627h3v1h-3zM1206 627h12v1h-12zM200 626h2v1h-2zM266 626h16v1h-16zM288 626h4v1h-4zM298 626h13v1h-13zM644 626h12v1h-12zM741 626h2v1h-2zM772 626h2v1h-2zM775 626h2v1h-2zM797 626h3v1h-3zM988 626h3v1h-3zM1039 626h2v1h-2zM1084 626h2v1h-2zM1090 626h5v1h-5zM1184 626h4v1h-4zM1218 626h13v1h-13zM1253 626h3v1h-3zM42 622h5v1h-5zM165 622h3v1h-3zM185 622h2v1h-2zM341 622h5v1h-5zM352 622h2v1h-2zM1048 622h2v1h-2zM1074 622h3v1h-3zM1162 622h3v1h-3zM1175 622h2v1h-2zM1237 622h10v1h-10zM856 644h4v1h-4zM892 644h2v1h-2zM1130 644h5v1h-5zM459 595h2v1h-2zM463 595h2v1h-2zM488 595h4v1h-4zM436 598h19v1h-19zM469 598h3v1h-3zM14 629h17v1h-17zM730 629h6v1h-6zM747 629h2v1h-2zM768 629h2v1h-2zM781 629h11v1h-11zM810 629h6v1h-6zM825 629h2v1h-2zM954 629h6v1h-6zM1202 629h2v1h-2zM54 615h2v1h-2zM370 615h3v1h-3zM576 615h4v1h-4zM626 615h2v1h-2zM699 615h2v1h-2zM368 616h2v1h-2zM542 616h9v1h-9zM572 616h4v1h-4zM628 616h2v1h-2zM686 616h2v1h-2zM697 616h2v1h-2zM56 614h2v1h-2zM68 614h4v1h-4zM373 614h5v1h-5zM580 614h14v1h-14zM701 614h10v1h-10zM158 619h2v1h-2zM234 619h2v1h-2zM328 619h4v1h-4zM335 619h2v1h-2zM555 619h2v1h-2zM560 619h4v1h-4zM80 610h4v1h-4zM396 610h19v1h-19zM605 610h3v1h-3zM617 610h2v1h-2zM228 617h2v1h-2zM231 617h2v1h-2zM366 617h2v1h-2zM551 617h2v1h-2zM568 617h4v1h-4zM688 617h4v1h-4zM695 617h2v1h-2zM84 609h3v1h-3zM415 609h2v1h-2zM608 609h4v1h-4zM615 609h2v1h-2zM58 613h3v1h-3zM64 613h4v1h-4zM72 613h2v1h-2zM378 613h8v1h-8zM594 613h6v1h-6zM623 613h2v1h-2zM749 630h3v1h-3zM816 630h4v1h-4zM823 630h2v1h-2zM960 630h4v1h-4zM1098 630h2v1h-2zM1194 630h2v1h-2zM96 604h2v1h-2zM106 604h3v1h-3zM132 604h12v1h-12zM424 604h2v1h-2zM506 604h2v1h-2zM101 602h3v1h-3zM148 602h3v1h-3zM524 602h2v1h-2zM757 633h3v1h-3zM914 633h2v1h-2zM920 633h2v1h-2zM1000 633h4v1h-4zM1144 633h4v1h-4zM12 628h2v1h-2zM205 628h10v1h-10zM246 628h12v1h-12zM638 628h2v1h-2zM722 628h8v1h-8zM736 628h2v1h-2zM745 628h2v1h-2zM779 628h2v1h-2zM792 628h2v1h-2zM804 628h6v1h-6zM827 628h2v1h-2zM946 628h8v1h-8zM1191 628h2v1h-2zM1204 628h2v1h-2zM752 631h2v1h-2zM764 631h3v1h-3zM820 631h3v1h-3zM964 631h3v1h-3zM1196 631h2v1h-2zM1199 631h2v1h-2zM898 639h2v1h-2zM91 606h2v1h-2zM122 606h6v1h-6zM421 606h2v1h-2zM514 606h5v1h-5zM532 606h2v1h-2zM162 621h3v1h-3zM168 621h4v1h-4zM183 621h2v1h-2zM316 621h2v1h-2zM339 621h2v1h-2zM346 621h6v1h-6zM1050 621h3v1h-3zM1055 621h2v1h-2zM1077 621h2v1h-2zM1165 621h10v1h-10zM1014 638h2v1h-2zM877 649h10v1h-10zM853 643h3v1h-3zM1114 643h16v1h-16zM998 634h2v1h-2zM1008 634h2v1h-2zM1148 634h3v1h-3zM846 640h2v1h-2zM89 607h2v1h-2zM419 607h2v1h-2zM510 607h4v1h-4zM7 625h2v1h-2zM194 625h6v1h-6zM242 625h2v1h-2zM282 625h6v1h-6zM656 625h4v1h-4zM666 625h8v1h-8zM984 625h4v1h-4zM1041 625h2v1h-2zM1062 625h4v1h-4zM1181 625h3v1h-3zM1231 625h2v1h-2zM1251 625h2v1h-2zM1256 625h2v1h-2zM850 642h3v1h-3zM1110 642h4v1h-4zM866 646h6v1h-6zM926 637h4v1h-4zM1012 637h2v1h-2zM1016 637h4v1h-4zM860 645h6v1h-6zM457 596h2v1h-2zM465 596h2v1h-2zM476 596h12v1h-12zM496 596h2v1h-2zM77 611h3v1h-3zM392 611h4v1h-4zM602 611h3v1h-3zM619 611h2v1h-2zM61 612h3v1h-3zM74 612h3v1h-3zM386 612h6v1h-6zM600 612h2v1h-2zM621 612h2v1h-2zM911 635h2v1h-2zM98 603h3v1h-3zM104 603h2v1h-2zM144 603h4v1h-4zM522 603h2v1h-2zM528 603h2v1h-2zM432 599h4v1h-4zM500 599h2v1h-2zM428 601h2v1h-2zM872 647h2v1h-2zM888 647h2v1h-2zM87 608h2v1h-2zM417 608h2v1h-2zM612 608h3v1h-3zM874 648h3v1h-3zM461 594h2v1h-2zM492 594h3v1h-3zM6 624h1v1h-1zM9 626h1v1h-1zM31 628h1v1h-1zM34 626h1v1h-1zM35 625h1v1h-1zM47 621h1v1h-1zM48 620h1v1h-1zM49 619h1v1h-1zM52 617h1v1h-1zM53 616h1v1h-1zM150 603h1v1h-1zM151 604h1v2h-1zM152 606h1v2h-1zM153 608h1v2h-1zM154 610h1v2h-1zM155 612h1v2h-1zM156 614h1v2h-1zM157 616h1v2h-1zM158 618h1v1h-1zM215 627h1v1h-1zM216 626h1v1h-1zM217 625h1v1h-1zM220 623h1v1h-1zM221 622h1v1h-1zM222 621h1v1h-1zM225 619h1v1h-1zM230 616h1v1h-1zM233 618h1v1h-1zM238 621h1v1h-1zM239 622h1v1h-1zM240 623h1v1h-1zM241 624h1v1h-1zM244 626h1v1h-1zM245 627h1v1h-1zM311 625h1v1h-1zM314 623h1v1h-1zM315 622h1v1h-1zM359 623h1v1h-1zM360 622h1v1h-1zM361 621h1v1h-1zM364 619h1v1h-1zM365 618h1v1h-1zM423 605h1v1h-1zM426 603h1v1h-1zM427 602h1v1h-1zM495 595h1v1h-1zM498 597h1v1h-1zM499 598h1v1h-1zM502 600h1v1h-1zM503 601h1v1h-1zM504 602h1v1h-1zM505 603h1v1h-1zM508 605h1v1h-1zM509 606h1v1h-1zM521 604h1v1h-1zM526 601h1v1h-1zM527 602h1v1h-1zM530 604h1v1h-1zM531 605h1v1h-1zM534 607h1v1h-1zM535 608h1v1h-1zM536 609h1v1h-1zM537 610h1v1h-1zM538 611h1v2h-1zM539 613h1v1h-1zM540 614h1v1h-1zM541 615h1v1h-1zM625 614h1v1h-1zM630 617h1v1h-1zM631 618h1v2h-1zM632 620h1v1h-1zM633 621h1v1h-1zM634 622h1v2h-1zM635 624h1v1h-1zM636 625h1v1h-1zM637 626h1v2h-1zM679 623h1v1h-1zM680 622h1v1h-1zM681 621h1v1h-1zM682 620h1v1h-1zM683 619h1v1h-1zM684 618h1v1h-1zM685 617h1v1h-1zM711 615h1v2h-1zM712 617h1v2h-1zM713 619h1v1h-1zM714 620h1v2h-1zM715 622h1v1h-1zM716 623h1v2h-1zM717 625h1v2h-1zM767 630h1v1h-1zM770 628h1v1h-1zM771 627h1v1h-1zM774 625h1v1h-1zM839 628h1v2h-1zM840 630h1v2h-1zM841 632h1v1h-1zM842 633h1v2h-1zM843 635h1v1h-1zM844 636h1v2h-1zM845 638h1v2h-1zM887 648h1v1h-1zM890 646h1v1h-1zM891 645h1v1h-1zM894 643h1v1h-1zM895 642h1v1h-1zM896 641h1v1h-1zM897 640h1v1h-1zM900 638h1v1h-1zM901 637h1v1h-1zM913 634h1v1h-1zM918 631h1v1h-1zM919 632h1v1h-1zM922 634h1v1h-1zM923 635h1v1h-1zM935 635h1v1h-1zM936 634h1v1h-1zM937 633h1v1h-1zM938 631h1v2h-1zM939 630h1v1h-1zM940 629h1v1h-1zM941 628h1v1h-1zM967 630h1v1h-1zM968 629h1v1h-1zM969 628h1v1h-1zM972 626h1v1h-1zM973 625h1v1h-1zM991 627h1v1h-1zM992 628h1v1h-1zM993 629h1v1h-1zM994 630h1v1h-1zM995 631h1v1h-1zM996 632h1v1h-1zM997 633h1v1h-1zM1007 633h1v1h-1zM1010 635h1v1h-1zM1011 636h1v1h-1zM1031 635h1v1h-1zM1032 634h1v1h-1zM1033 633h1v1h-1zM1034 631h1v2h-1zM1035 630h1v1h-1zM1036 629h1v1h-1zM1037 628h1v1h-1zM1038 627h1v1h-1zM1057 622h1v1h-1zM1079 622h1v1h-1zM1082 624h1v1h-1zM1083 625h1v1h-1zM1095 627h1v1h-1zM1096 628h1v1h-1zM1097 629h1v1h-1zM1100 631h1v1h-1zM1101 632h1v1h-1zM1102 633h1v1h-1zM1103 634h1v1h-1zM1104 635h1v1h-1zM1105 636h1v1h-1zM1106 637h1v2h-1zM1107 639h1v1h-1zM1108 640h1v1h-1zM1109 641h1v1h-1zM1135 642h1v2h-1zM1136 641h1v1h-1zM1137 639h1v2h-1zM1138 638h1v1h-1zM1139 636h1v2h-1zM1140 635h1v1h-1zM1141 633h1v2h-1zM1151 633h1v1h-1zM1152 631h1v2h-1zM1153 630h1v1h-1zM1154 629h1v1h-1zM1155 628h1v1h-1zM1156 626h1v2h-1zM1157 625h1v1h-1zM1193 629h1v1h-1zM1198 632h1v1h-1zM1201 630h1v1h-1z" fill="#1e90ff"/>
</g>
<text x="10" y="592" font-size="9.5" fill="#000" textLength="68" lengthAdjust="spacingAndGlyphs" stroke="#000" stroke-width="0.15">RSI(14) 57.8559</text>
<text x="1602.6" y="590.0" font-size="9.9" fill="#000" textLength="14.0" lengthAdjust="spacingAndGlyphs" stroke="#000" stroke-width="0.15">100</text>
<text x="1601.2" y="614.0" font-size="9.9" fill="#000" textLength="9.4" lengthAdjust="spacingAndGlyphs" stroke="#000" stroke-width="0.15">70</text>
<text x="1601.2" y="654.0" font-size="9.9" fill="#000" textLength="9.4" lengthAdjust="spacingAndGlyphs" stroke="#000" stroke-width="0.15">30</text>
<text x="1602.2" y="678.0" font-size="9.9" fill="#000" textLength="4.8" lengthAdjust="spacingAndGlyphs" stroke="#000" stroke-width="0.15">0</text>
<rect x="1599" y="581" width="1" height="1" fill="#000"/>
<rect x="1599" y="680" width="1" height="1" fill="#000"/>
<rect x="1599" y="685" width="1" height="1" fill="#000"/>
<g clip-path="url(#cd)">
<rect x="6" y="752" width="1" height="5" fill="#c0c0c0"/>
<rect x="14" y="752" width="1" height="5" fill="#c0c0c0"/>
<rect x="22" y="752" width="1" height="5" fill="#c0c0c0"/>
<rect x="30" y="753" width="1" height="4" fill="#c0c0c0"/>
<rect x="38" y="750" width="1" height="7" fill="#c0c0c0"/>
<rect x="46" y="748" width="1" height="9" fill="#c0c0c0"/>
<rect x="54" y="742" width="1" height="15" fill="#c0c0c0"/>
<rect x="62" y="737" width="1" height="20" fill="#c0c0c0"/>
<rect x="70" y="733" width="1" height="24" fill="#c0c0c0"/>
<rect x="78" y="729" width="1" height="28" fill="#c0c0c0"/>
<rect x="86" y="725" width="1" height="32" fill="#c0c0c0"/>
<rect x="94" y="719" width="1" height="38" fill="#c0c0c0"/>
<rect x="102" y="711" width="1" height="46" fill="#c0c0c0"/>
<rect x="110" y="707" width="1" height="50" fill="#c0c0c0"/>
<rect x="118" y="704" width="1" height="53" fill="#c0c0c0"/>
<rect x="126" y="703" width="1" height="54" fill="#c0c0c0"/>
<rect x="134" y="700" width="1" height="57" fill="#c0c0c0"/>
<rect x="142" y="699" width="1" height="58" fill="#c0c0c0"/>
<rect x="150" y="697" width="1" height="60" fill="#c0c0c0"/>
<rect x="158" y="701" width="1" height="56" fill="#c0c0c0"/>
<rect x="166" y="706" width="1" height="51" fill="#c0c0c0"/>
<rect x="174" y="709" width="1" height="48" fill="#c0c0c0"/>
<rect x="182" y="712" width="1" height="45" fill="#c0c0c0"/>
<rect x="190" y="717" width="1" height="40" fill="#c0c0c0"/>
<rect x="198" y="721" width="1" height="36" fill="#c0c0c0"/>
<rect x="206" y="726" width="1" height="31" fill="#c0c0c0"/>
<rect x="214" y="730" width="1" height="27" fill="#c0c0c0"/>
<rect x="222" y="731" width="1" height="26" fill="#c0c0c0"/>
<rect x="230" y="729" width="1" height="28" fill="#c0c0c0"/>
<rect x="238" y="731" width="1" height="26" fill="#c0c0c0"/>
<rect x="246" y="734" width="1" height="23" fill="#c0c0c0"/>
<rect x="254" y="737" width="1" height="20" fill="#c0c0c0"/>
<rect x="262" y="739" width="1" height="18" fill="#c0c0c0"/>
<rect x="270" y="740" width="1" height="17" fill="#c0c0c0"/>
<rect x="278" y="741" width="1" height="16" fill="#c0c0c0"/>
<rect x="286" y="742" width="1" height="15" fill="#c0c0c0"/>
<rect x="294" y="743" width="1" height="14" fill="#c0c0c0"/>
<rect x="302" y="744" width="1" height="13" fill="#c0c0c0"/>
<rect x="310" y="745" width="1" height="12" fill="#c0c0c0"/>
<rect x="318" y="743" width="1" height="14" fill="#c0c0c0"/>
<rect x="326" y="743" width="1" height="14" fill="#c0c0c0"/>
<rect x="334" y="741" width="1" height="16" fill="#c0c0c0"/>
<rect x="342" y="742" width="1" height="15" fill="#c0c0c0"/>
<rect x="350" y="740" width="1" height="17" fill="#c0c0c0"/>
<rect x="358" y="741" width="1" height="16" fill="#c0c0c0"/>
<rect x="366" y="739" width="1" height="18" fill="#c0c0c0"/>
<rect x="374" y="736" width="1" height="21" fill="#c0c0c0"/>
<rect x="382" y="734" width="1" height="23" fill="#c0c0c0"/>
<rect x="390" y="731" width="1" height="26" fill="#c0c0c0"/>
<rect x="398" y="730" width="1" height="27" fill="#c0c0c0"/>
<rect x="406" y="728" width="1" height="29" fill="#c0c0c0"/>
<rect x="414" y="728" width="1" height="29" fill="#c0c0c0"/>
<rect x="422" y="725" width="1" height="32" fill="#c0c0c0"/>
<rect x="430" y="720" width="1" height="37" fill="#c0c0c0"/>
<rect x="438" y="715" width="1" height="42" fill="#c0c0c0"/>
<rect x="446" y="711" width="1" height="46" fill="#c0c0c0"/>
<rect x="454" y="709" width="1" height="48" fill="#c0c0c0"/>
<rect x="462" y="703" width="1" height="54" fill="#c0c0c0"/>
<rect x="470" y="699" width="1" height="58" fill="#c0c0c0"/>
<rect x="478" y="696" width="1" height="61" fill="#c0c0c0"/>
<rect x="486" y="693" width="1" height="64" fill="#c0c0c0"/>
<rect x="494" y="690" width="1" height="67" fill="#c0c0c0"/>
<rect x="502" y="690" width="1" height="67" fill="#c0c0c0"/>
<rect x="510" y="692" width="1" height="65" fill="#c0c0c0"/>
<rect x="518" y="694" width="1" height="63" fill="#c0c0c0"/>
<rect x="526" y="691" width="1" height="66" fill="#c0c0c0"/>
<rect x="534" y="691" width="1" height="66" fill="#c0c0c0"/>
<rect x="542" y="695" width="1" height="62" fill="#c0c0c0"/>
<rect x="550" y="699" width="1" height="58" fill="#c0c0c0"/>
<rect x="558" y="703" width="1" height="54" fill="#c0c0c0"/>
<rect x="566" y="707" width="1" height="50" fill="#c0c0c0"/>
<rect x="574" y="709" width="1" height="48" fill="#c0c0c0"/>
<rect x="582" y="711" width="1" height="46" fill="#c0c0c0"/>
<rect x="590" y="712" width="1" height="45" fill="#c0c0c0"/>
<rect x="598" y="713" width="1" height="44" fill="#c0c0c0"/>
<rect x="606" y="713" width="1" height="44" fill="#c0c0c0"/>
<rect x="614" y="711" width="1" height="46" fill="#c0c0c0"/>
<rect x="622" y="712" width="1" height="45" fill="#c0c0c0"/>
<rect x="630" y="714" width="1" height="43" fill="#c0c0c0"/>
<rect x="638" y="720" width="1" height="37" fill="#c0c0c0"/>
<rect x="646" y="724" width="1" height="33" fill="#c0c0c0"/>
<rect x="654" y="728" width="1" height="29" fill="#c0c0c0"/>
<rect x="662" y="730" width="1" height="27" fill="#c0c0c0"/>
<rect x="670" y="732" width="1" height="25" fill="#c0c0c0"/>
<rect x="678" y="734" width="1" height="23" fill="#c0c0c0"/>
<rect x="686" y="732" width="1" height="25" fill="#c0c0c0"/>
<rect x="694" y="732" width="1" height="25" fill="#c0c0c0"/>
<rect x="702" y="729" width="1" height="28" fill="#c0c0c0"/>
<rect x="710" y="729" width="1" height="28" fill="#c0c0c0"/>
<rect x="718" y="731" width="1" height="26" fill="#c0c0c0"/>
<rect x="726" y="735" width="1" height="22" fill="#c0c0c0"/>
<rect x="734" y="738" width="1" height="19" fill="#c0c0c0"/>
<rect x="742" y="740" width="1" height="17" fill="#c0c0c0"/>
<rect x="750" y="742" width="1" height="15" fill="#c0c0c0"/>
<rect x="758" y="746" width="1" height="11" fill="#c0c0c0"/>
<rect x="766" y="748" width="1" height="9" fill="#c0c0c0"/>
<rect x="774" y="747" width="1" height="10" fill="#c0c0c0"/>
<rect x="782" y="748" width="1" height="9" fill="#c0c0c0"/>
<rect x="790" y="749" width="1" height="8" fill="#c0c0c0"/>
<rect x="798" y="748" width="1" height="9" fill="#c0c0c0"/>
<rect x="806" y="749" width="1" height="8" fill="#c0c0c0"/>
<rect x="814" y="750" width="1" height="7" fill="#c0c0c0"/>
<rect x="822" y="751" width="1" height="6" fill="#c0c0c0"/>
<rect x="830" y="751" width="1" height="6" fill="#c0c0c0"/>
<rect x="838" y="751" width="1" height="6" fill="#c0c0c0"/>
<rect x="846" y="756" width="1" height="1" fill="#c0c0c0"/>
<rect x="854" y="756" width="1" height="4" fill="#c0c0c0"/>
<rect x="862" y="756" width="1" height="9" fill="#c0c0c0"/>
<rect x="870" y="756" width="1" height="13" fill="#c0c0c0"/>
<rect x="878" y="756" width="1" height="18" fill="#c0c0c0"/>
<rect x="886" y="756" width="1" height="22" fill="#c0c0c0"/>
<rect x="894" y="756" width="1" height="23" fill="#c0c0c0"/>
<rect x="902" y="756" width="1" height="21" fill="#c0c0c0"/>
<rect x="910" y="756" width="1" height="20" fill="#c0c0c0"/>
<rect x="918" y="756" width="1" height="17" fill="#c0c0c0"/>
<rect x="926" y="756" width="1" height="16" fill="#c0c0c0"/>
<rect x="934" y="756" width="1" height="15" fill="#c0c0c0"/>
<rect x="942" y="756" width="1" height="12" fill="#c0c0c0"/>
<rect x="950" y="756" width="1" height="9" fill="#c0c0c0"/>
<rect x="958" y="756" width="1" height="7" fill="#c0c0c0"/>
<rect x="966" y="756" width="1" height="6" fill="#c0c0c0"/>
<rect x="974" y="756" width="1" height="3" fill="#c0c0c0"/>
<rect x="990" y="755" width="1" height="2" fill="#c0c0c0"/>
<rect x="1014" y="756" width="1" height="3" fill="#c0c0c0"/>
<rect x="1022" y="756" width="1" height="3" fill="#c0c0c0"/>
<rect x="1030" y="756" width="1" height="5" fill="#c0c0c0"/>
<rect x="1038" y="756" width="1" height="3" fill="#c0c0c0"/>
<rect x="1054" y="753" width="1" height="4" fill="#c0c0c0"/>
<rect x="1062" y="751" width="1" height="6" fill="#c0c0c0"/>
<rect x="1070" y="749" width="1" height="8" fill="#c0c0c0"/>
<rect x="1078" y="747" width="1" height="10" fill="#c0c0c0"/>
<rect x="1086" y="748" width="1" height="9" fill="#c0c0c0"/>
<rect x="1094" y="747" width="1" height="10" fill="#c0c0c0"/>
<rect x="1102" y="750" width="1" height="7" fill="#c0c0c0"/>
<rect x="1118" y="756" width="1" height="5" fill="#c0c0c0"/>
<rect x="1126" y="756" width="1" height="9" fill="#c0c0c0"/>
<rect x="1134" y="756" width="1" height="13" fill="#c0c0c0"/>
<rect x="1142" y="756" width="1" height="12" fill="#c0c0c0"/>
<rect x="1150" y="756" width="1" height="12" fill="#c0c0c0"/>
<rect x="1158" y="756" width="1" height="7" fill="#c0c0c0"/>
<rect x="1174" y="753" width="1" height="4" fill="#c0c0c0"/>
<rect x="1182" y="751" width="1" height="6" fill="#c0c0c0"/>
<rect x="1190" y="750" width="1" height="7" fill="#c0c0c0"/>
<rect x="1198" y="752" width="1" height="5" fill="#c0c0c0"/>
<rect x="1206" y="752" width="1" height="5" fill="#c0c0c0"/>
<rect x="1214" y="751" width="1" height="6" fill="#c0c0c0"/>
<rect x="1222" y="750" width="1" height="7" fill="#c0c0c0"/>
<rect x="1230" y="749" width="1" height="8" fill="#c0c0c0"/>
<rect x="1238" y="747" width="1" height="10" fill="#c0c0c0"/>
<rect x="1246" y="745" width="1" height="12" fill="#c0c0c0"/>
<rect x="1254" y="746" width="1" height="11" fill="#c0c0c0"/>
<rect x="1262" y="745" width="1" height="12" fill="#c0c0c0"/>
<path d="M258 729h2v1h-2zM426 729h3v1h-3zM703 729h2v1h-2zM708 729h3v1h-3zM913 771h2v1h-2zM960 771h3v1h-3zM78 742h2v1h-2zM330 742h3v1h-3zM336 742h3v1h-3zM342 742h3v1h-3zM348 742h2v1h-2zM786 742h3v1h-3zM300 738h3v1h-3zM384 738h3v1h-3zM156 705h3v1h-3zM193 705h2v1h-2zM492 705h2v1h-2zM312 740h3v1h-3zM366 740h3v1h-3zM372 740h3v1h-3zM216 714h2v1h-2zM648 714h3v1h-3zM294 737h3v1h-3zM390 737h3v1h-3zM768 737h2v1h-2zM103 730h2v1h-2zM714 730h3v1h-3zM720 730h3v1h-3zM726 730h2v1h-2zM240 723h3v1h-3zM678 723h3v1h-3zM6 761h3v1h-3zM1002 761h3v1h-3zM1164 761h3v1h-3zM1176 761h3v1h-3zM1182 761h2v1h-2zM18 759h3v1h-3zM1014 759h3v1h-3zM1152 759h3v1h-3zM1194 759h3v1h-3zM97 733h2v1h-2zM271 733h2v1h-2zM750 733h3v1h-3zM24 758h3v1h-3zM877 758h2v1h-2zM1021 758h2v1h-2zM1026 758h3v1h-3zM1032 758h3v1h-3zM1038 758h2v1h-2zM1200 758h3v1h-3zM1110 750h3v1h-3zM1231 750h2v1h-2zM1236 750h2v1h-2zM61 748h2v1h-2zM834 748h3v1h-3zM840 748h3v1h-3zM1248 748h3v1h-3zM1254 748h3v1h-3zM30 757h2v1h-2zM1044 757h3v1h-3zM1050 757h3v1h-3zM1056 757h3v1h-3zM1146 757h2v1h-2zM246 725h3v1h-3zM439 725h2v1h-2zM690 725h2v1h-2zM1087 753h2v1h-2zM1092 753h2v1h-2zM1128 753h3v1h-3zM1218 753h2v1h-2zM630 711h3v1h-3zM805 745h2v1h-2zM534 692h3v1h-3zM540 692h3v1h-3zM612 708h3v1h-3zM72 744h2v1h-2zM798 744h3v1h-3zM36 755h3v1h-3zM1074 755h3v1h-3zM180 703h3v1h-3zM186 703h3v1h-3zM846 749h3v1h-3zM1242 749h3v1h-3zM924 774h3v1h-3zM930 774h3v1h-3zM936 774h3v1h-3zM942 774h3v1h-3zM12 760h3v1h-3zM883 760h2v1h-2zM1008 760h2v1h-2zM1158 760h3v1h-3zM1188 760h2v1h-2zM948 773h3v1h-3zM109 727h2v1h-2zM252 727h2v1h-2zM432 727h3v1h-3zM696 727h3v1h-3zM487 707h2v1h-2zM606 707h3v1h-3zM162 704h2v1h-2zM594 704h3v1h-3zM571 697h2v1h-2zM318 741h3v1h-3zM324 741h3v1h-3zM354 741h3v1h-3zM360 741h3v1h-3zM780 741h3v1h-3zM822 747h3v1h-3zM828 747h3v1h-3zM1260 747h3v1h-3zM48 752h3v1h-3zM858 752h2v1h-2zM1098 752h3v1h-3zM90 736h3v1h-3zM288 736h3v1h-3zM397 736h2v1h-2zM762 736h3v1h-3zM456 720h3v1h-3zM667 720h2v1h-2zM144 709h2v1h-2zM205 709h2v1h-2zM618 709h3v1h-3zM264 731h3v1h-3zM420 731h2v1h-2zM732 731h3v1h-3zM738 731h2v1h-2zM870 756h3v1h-3zM1062 756h3v1h-3zM1068 756h3v1h-3zM1141 756h2v1h-2zM1206 756h3v1h-3zM169 702h2v1h-2zM174 702h3v1h-3zM498 702h2v1h-2zM589 702h2v1h-2zM414 732h3v1h-3zM744 732h3v1h-3zM150 706h3v1h-3zM198 706h2v1h-2zM600 706h3v1h-3zM996 763h2v1h-2zM54 751h2v1h-2zM853 751h2v1h-2zM1104 751h3v1h-3zM1116 751h3v1h-3zM1122 751h2v1h-2zM1225 751h2v1h-2zM918 772h2v1h-2zM954 772h3v1h-3zM132 715h2v1h-2zM469 715h2v1h-2zM654 715h3v1h-3zM510 698h3v1h-3zM576 698h3v1h-3zM138 712h2v1h-2zM211 712h2v1h-2zM636 712h2v1h-2zM888 762h3v1h-3zM1170 762h3v1h-3zM474 713h2v1h-2zM642 713h2v1h-2zM84 739h2v1h-2zM306 739h3v1h-3zM378 739h3v1h-3zM774 739h3v1h-3zM276 734h3v1h-3zM408 734h2v1h-2zM756 734h2v1h-2zM522 695h2v1h-2zM564 695h3v1h-3zM984 765h3v1h-3zM894 764h2v1h-2zM990 764h3v1h-3zM66 746h3v1h-3zM811 746h2v1h-2zM816 746h2v1h-2zM223 717h2v1h-2zM660 717h2v1h-2zM528 693h3v1h-3zM546 693h3v1h-3zM552 693h3v1h-3zM504 700h2v1h-2zM583 700h2v1h-2zM480 710h3v1h-3zM624 710h3v1h-3zM907 769h2v1h-2zM967 769h2v1h-2zM114 724h2v1h-2zM444 724h2v1h-2zM684 724h3v1h-3zM559 694h2v1h-2zM42 754h2v1h-2zM864 754h3v1h-3zM1080 754h3v1h-3zM1134 754h3v1h-3zM1213 754h2v1h-2zM792 743h3v1h-3zM972 768h2v1h-2zM126 718h2v1h-2zM463 718h2v1h-2zM120 721h2v1h-2zM234 721h3v1h-3zM900 766h2v1h-2zM978 766h3v1h-3zM282 735h3v1h-3zM402 735h3v1h-3zM516 696h3v1h-3zM450 722h3v1h-3zM673 722h2v1h-2zM229 719h2v1h-2zM32 756h1v1h-1zM44 753h1v1h-1zM56 750h1v1h-1zM60 749h1v1h-1zM74 743h1v1h-1zM80 741h1v1h-1zM86 738h1v1h-1zM96 734h1v1h-1zM102 731h1v1h-1zM108 728h1v1h-1zM116 723h1v1h-1zM122 720h1v1h-1zM128 717h1v1h-1zM134 714h1v1h-1zM140 711h1v1h-1zM146 708h1v1h-1zM164 703h1v1h-1zM168 703h1v1h-1zM192 704h1v1h-1zM200 707h1v1h-1zM204 708h1v1h-1zM210 711h1v1h-1zM218 715h1v1h-1zM222 716h1v1h-1zM228 718h1v1h-1zM254 728h1v1h-1zM260 730h1v1h-1zM270 732h1v1h-1zM350 741h1v1h-1zM396 737h1v1h-1zM410 733h1v1h-1zM422 730h1v1h-1zM438 726h1v1h-1zM446 723h1v1h-1zM462 719h1v1h-1zM468 716h1v1h-1zM476 712h1v1h-1zM486 708h1v1h-1zM494 704h1v1h-1zM500 701h1v1h-1zM506 699h1v1h-1zM524 694h1v1h-1zM558 693h1v1h-1zM570 696h1v1h-1zM582 699h1v1h-1zM588 701h1v1h-1zM638 713h1v1h-1zM644 714h1v1h-1zM662 718h1v1h-1zM666 719h1v1h-1zM672 721h1v1h-1zM692 726h1v1h-1zM702 728h1v1h-1zM728 731h1v1h-1zM740 732h1v1h-1zM758 735h1v1h-1zM770 738h1v1h-1zM804 744h1v1h-1zM810 745h1v1h-1zM818 747h1v1h-1zM852 750h1v1h-1zM860 753h1v1h-1zM876 757h1v1h-1zM882 759h1v1h-1zM896 765h1v1h-1zM902 767h1v1h-1zM906 768h1v1h-1zM912 770h1v1h-1zM920 773h1v1h-1zM966 770h1v1h-1zM974 767h1v1h-1zM998 762h1v1h-1zM1010 759h1v1h-1zM1020 759h1v1h-1zM1040 757h1v1h-1zM1086 754h1v1h-1zM1094 752h1v1h-1zM1124 752h1v1h-1zM1140 755h1v1h-1zM1148 758h1v1h-1zM1184 760h1v1h-1zM1190 759h1v1h-1zM1212 755h1v1h-1zM1220 752h1v1h-1zM1224 752h1v1h-1zM1230 751h1v1h-1zM1238 749h1v1h-1z" fill="#ff0000"/>
</g>
<text x="10" y="696" font-size="9.5" fill="#000" textLength="147.7" lengthAdjust="spacingAndGlyphs" stroke="#000" stroke-width="0.15">MACD(12,26,9) 0.002576 0.001813</text>
<text x="1602.2" y="694" font-size="9.9" fill="#000" textLength="37.4" lengthAdjust="spacingAndGlyphs" stroke="#000" stroke-width="0.15">0.014384</text>
<text x="1602.2" y="760" font-size="9.9" fill="#000" textLength="17.5" lengthAdjust="spacingAndGlyphs" stroke="#000" stroke-width="0.15">0.00</text>
<text x="1602.2" y="781" font-size="9.9" fill="#000" textLength="42" lengthAdjust="spacingAndGlyphs" stroke="#000" stroke-width="0.15">-0.005396</text>
<rect x="1599" y="756" width="1" height="1" fill="#000"/>
<rect x="1599" y="783" width="1" height="1" fill="#000"/>
<rect x="6" y="785" width="1" height="3" fill="#000"/>
<text x="5.1" y="797" font-size="9.7" fill="#000" textLength="54.8" lengthAdjust="spacingAndGlyphs">21 May 2020</text>
<rect x="70" y="785" width="1" height="3" fill="#000"/>
<text x="69.1" y="797" font-size="9.7" fill="#000" textLength="54.2" lengthAdjust="spacingAndGlyphs">30 May 2020</text>
<rect x="134" y="785" width="1" height="3" fill="#000"/>
<text x="133.1" y="797" font-size="9.7" fill="#000" textLength="44.8" lengthAdjust="spacingAndGlyphs">9 Jun 2020</text>
<rect x="198" y="785" width="1" height="3" fill="#000"/>
<text x="197.1" y="797" font-size="9.7" fill="#000" textLength="49.4" lengthAdjust="spacingAndGlyphs">18 Jun 2020</text>
<rect x="262" y="785" width="1" height="3" fill="#000"/>
<text x="261.1" y="797" font-size="9.7" fill="#000" textLength="49.4" lengthAdjust="spacingAndGlyphs">27 Jun 2020</text>
<rect x="326" y="785" width="1" height="3" fill="#000"/>
<text x="325.1" y="797" font-size="9.7" fill="#000" textLength="41.8" lengthAdjust="spacingAndGlyphs">7 Jul 2020</text>
<rect x="390" y="785" width="1" height="3" fill="#000"/>
<text x="389.1" y="797" font-size="9.7" fill="#000" textLength="46.8" lengthAdjust="spacingAndGlyphs">16 Jul 2020</text>
<rect x="454" y="785" width="1" height="3" fill="#000"/>
<text x="453.1" y="797" font-size="9.7" fill="#000" textLength="46.8" lengthAdjust="spacingAndGlyphs">25 Jul 2020</text>
<rect x="518" y="785" width="1" height="3" fill="#000"/>
<text x="517.1" y="797" font-size="9.7" fill="#000" textLength="47.4" lengthAdjust="spacingAndGlyphs">4 Aug 2020</text>
<rect x="582" y="785" width="1" height="3" fill="#000"/>
<text x="581.1" y="797" font-size="9.7" fill="#000" textLength="52.2" lengthAdjust="spacingAndGlyphs">13 Aug 2020</text>
<rect x="646" y="785" width="1" height="3" fill="#000"/>
<text x="645.1" y="797" font-size="9.7" fill="#000" textLength="52.8" lengthAdjust="spacingAndGlyphs">22 Aug 2020</text>
<rect x="710" y="785" width="1" height="3" fill="#000"/>
<text x="709.1" y="797" font-size="9.7" fill="#000" textLength="46.8" lengthAdjust="spacingAndGlyphs">1 Sep 2020</text>
<rect x="774" y="785" width="1" height="3" fill="#000"/>
<text x="773.1" y="797" font-size="9.7" fill="#000" textLength="51.4" lengthAdjust="spacingAndGlyphs">10 Sep 2020</text>
<rect x="838" y="785" width="1" height="3" fill="#000"/>
<text x="837.1" y="797" font-size="9.7" fill="#000" textLength="51.4" lengthAdjust="spacingAndGlyphs">19 Sep 2020</text>
<rect x="902" y="785" width="1" height="3" fill="#000"/>
<text x="901.1" y="797" font-size="9.7" fill="#000" textLength="51.4" lengthAdjust="spacingAndGlyphs">29 Sep 2020</text>
<rect x="966" y="785" width="1" height="3" fill="#000"/>
<text x="965.1" y="797" font-size="9.7" fill="#000" textLength="45.6" lengthAdjust="spacingAndGlyphs">8 Oct 2020</text>
<rect x="1030" y="785" width="1" height="3" fill="#000"/>
<text x="1029.1" y="797" font-size="9.7" fill="#000" textLength="50.8" lengthAdjust="spacingAndGlyphs">17 Oct 2020</text>
<rect x="1094" y="785" width="1" height="3" fill="#000"/>
<text x="1093.1" y="797" font-size="9.7" fill="#000" textLength="50.8" lengthAdjust="spacingAndGlyphs">27 Oct 2020</text>
<rect x="1158" y="785" width="1" height="3" fill="#000"/>
<text x="1157.1" y="797" font-size="9.7" fill="#000" textLength="48.2" lengthAdjust="spacingAndGlyphs">5 Nov 2020</text>
<rect x="1222" y="785" width="1" height="3" fill="#000"/>
<text x="1221.1" y="797" font-size="9.7" fill="#000" textLength="52.8" lengthAdjust="spacingAndGlyphs">14 Nov 2020</text>
<rect x="0" y="805" width="1643" height="1" fill="#e3e3e3"/>
<rect x="0" y="806" width="1643" height="1" fill="#ffffff"/>
<rect x="0" y="807" width="1643" height="1" fill="#000000"/>
<rect x="0" y="808" width="1643" height="18" fill="#f0f0f0"/>
<rect x="0" y="827" width="1643" height="1" fill="#ffffff"/>
<rect x="0" y="830" width="1643" height="1" fill="#f5f5f5"/>
<rect x="0" y="831" width="1643" height="1" fill="#a0a0a0"/>
<rect x="0" y="832" width="1643" height="1" fill="#ffffff"/>
<rect x="1" y="808" width="1" height="18" fill="#a0a0a0"/>
<rect x="7" y="807" width="104" height="19" fill="#000"/>
<rect x="8" y="807" width="102" height="18" fill="#ffffff"/>
<text x="19.7" y="822" font-size="12" fill="#000" textLength="79.3" lengthAdjust="spacingAndGlyphs">EURUSD,Daily</text>
<text x="121.2" y="822" font-size="12" fill="#5a5a5a" textLength="78.8" lengthAdjust="spacingAndGlyphs">USDCHF,Daily</text>
<text x="222.4" y="822" font-size="12" fill="#5a5a5a" textLength="81.4" lengthAdjust="spacingAndGlyphs">AUDUSD,Daily</text>
<text x="326.3" y="822" font-size="12" fill="#5a5a5a" textLength="80.5" lengthAdjust="spacingAndGlyphs">USDCAD,Daily</text>
<text x="429.1" y="822" font-size="12" fill="#5a5a5a" textLength="83.1" lengthAdjust="spacingAndGlyphs">USDCNH,Daily</text>
<text x="535.2" y="822" font-size="12" fill="#5a5a5a" textLength="79.7" lengthAdjust="spacingAndGlyphs">EURUSD,Daily</text>
<text x="639.2" y="822" font-size="12" fill="#5a5a5a" textLength="67.2" lengthAdjust="spacingAndGlyphs">GBPUSD,H4</text>
<text x="730.4" y="822" font-size="12" fill="#5a5a5a" textLength="80.6" lengthAdjust="spacingAndGlyphs">XAUUSD,Daily</text>
<text x="834.7" y="822" font-size="12" fill="#5a5a5a" textLength="49.1" lengthAdjust="spacingAndGlyphs">HK50,H1</text>
<text x="906.8" y="822" font-size="12" fill="#5a5a5a" textLength="55.8" lengthAdjust="spacingAndGlyphs">UK100,H1</text>
<text x="986.8" y="822" font-size="12" fill="#5a5a5a" textLength="55.5" lengthAdjust="spacingAndGlyphs">UK100,H1</text>
<text x="1066.6" y="822" font-size="12" fill="#5a5a5a" textLength="55.5" lengthAdjust="spacingAndGlyphs">GER30,H1</text>
<text x="1145.6" y="822" font-size="12" fill="#5a5a5a" textLength="54.2" lengthAdjust="spacingAndGlyphs">FRA40,H1</text>
<text x="1221.5" y="822" font-size="12" fill="#5a5a5a" textLength="50.6" lengthAdjust="spacingAndGlyphs">USOil,H4</text>
<text x="1293.8" y="822" font-size="12" fill="#5a5a5a" textLength="61.4" lengthAdjust="spacingAndGlyphs">USDJPY,H1</text>
<text x="1377.4" y="822" font-size="12" fill="#5a5a5a" textLength="58.3" lengthAdjust="spacingAndGlyphs">DJ30,Daily</text>
<text x="1457.4" y="822" font-size="12" fill="#5a5a5a" textLength="77.2" lengthAdjust="spacingAndGlyphs">CHINA300,H1</text>
<text x="1557" y="822" font-size="12" fill="#5a5a5a" textLength="51" lengthAdjust="spacingAndGlyphs">USOil,H1</text>
<rect x="210" y="810" width="3" height="15" fill="#fafafa"/>
<rect x="211" y="810" width="1" height="14" fill="#6a6a6a"/>
<rect x="314" y="810" width="3" height="15" fill="#fafafa"/>
<rect x="315" y="810" width="1" height="14" fill="#6a6a6a"/>
<rect x="418" y="810" width="3" height="15" fill="#fafafa"/>
<rect x="419" y="810" width="1" height="14" fill="#6a6a6a"/>
<rect x="522" y="810" width="3" height="15" fill="#fafafa"/>
<rect x="523" y="810" width="1" height="14" fill="#6a6a6a"/>
<rect x="626" y="810" width="3" height="15" fill="#fafafa"/>
<rect x="627" y="810" width="1" height="14" fill="#6a6a6a"/>
<rect x="718" y="810" width="3" height="15" fill="#fafafa"/>
<rect x="719" y="810" width="1" height="14" fill="#6a6a6a"/>
<rect x="822" y="810" width="3" height="15" fill="#fafafa"/>
<rect x="823" y="810" width="1" height="14" fill="#6a6a6a"/>
<rect x="894" y="810" width="3" height="15" fill="#fafafa"/>
<rect x="895" y="810" width="1" height="14" fill="#6a6a6a"/>
<rect x="974" y="810" width="3" height="15" fill="#fafafa"/>
<rect x="975" y="810" width="1" height="14" fill="#6a6a6a"/>
<rect x="1054" y="810" width="3" height="15" fill="#fafafa"/>
<rect x="1055" y="810" width="1" height="14" fill="#6a6a6a"/>
<rect x="1134" y="810" width="3" height="15" fill="#fafafa"/>
<rect x="1135" y="810" width="1" height="14" fill="#6a6a6a"/>
<rect x="1210" y="810" width="3" height="15" fill="#fafafa"/>
<rect x="1211" y="810" width="1" height="14" fill="#6a6a6a"/>
<rect x="1282" y="810" width="3" height="15" fill="#fafafa"/>
<rect x="1283" y="810" width="1" height="14" fill="#6a6a6a"/>
<rect x="1366" y="810" width="3" height="15" fill="#fafafa"/>
<rect x="1367" y="810" width="1" height="14" fill="#6a6a6a"/>
<rect x="1446" y="810" width="3" height="15" fill="#fafafa"/>
<rect x="1447" y="810" width="1" height="14" fill="#6a6a6a"/>
<rect x="1545" y="810" width="3" height="15" fill="#fafafa"/>
<rect x="1546" y="810" width="1" height="14" fill="#6a6a6a"/>
<path d="M1617 813 L1617 820 L1613.5 816.5 Z" fill="#a0a0a0" shape-rendering="auto"/>
<path d="M1632.5 813 L1632.5 820 L1636 816.5 Z" fill="#000" shape-rendering="auto"/>
</svg>
</body></html>
